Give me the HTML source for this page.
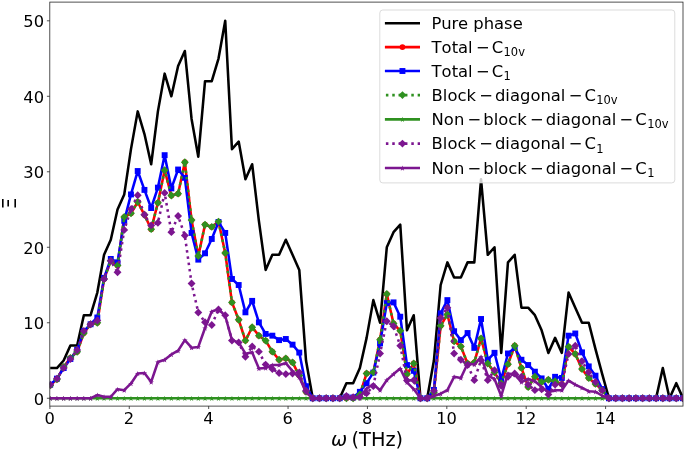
<!DOCTYPE html>
<html><head><meta charset="utf-8"><title>Ξ vs ω (THz)</title>
<style>
html,body{margin:0;padding:0;background:#fff}
svg{display:block}
text{font-family:"DejaVu Sans","Liberation Sans",sans-serif;fill:#000}
.tk{font-size:16.3px}
.lb{font-size:19.3px}
.lg{font-size:16.4px}
.sub{font-size:11.48px}
.mt{font-kerning:none;}
.it{font-family:"DejaVu Sans","Liberation Sans",sans-serif;font-style:oblique}
</style></head><body>
<svg width="685" height="450" viewBox="0 0 685 450">
<rect width="685" height="450" fill="#fff"/>
<defs><clipPath id="ax"><rect x="49.8" y="2.1" width="633.2" height="404.0"/></clipPath></defs>
<g clip-path="url(#ax)" fill="none" stroke-linejoin="round">
<polyline points="50.20,368.05 56.93,368.05 63.66,360.50 70.40,345.41 77.13,345.41 83.86,315.21 90.59,315.21 97.32,292.56 104.06,254.82 110.79,239.72 117.52,209.52 124.25,194.43 130.98,149.13 137.71,111.39 144.45,134.03 151.18,164.23 157.91,111.39 164.64,73.64 171.37,96.29 178.11,66.09 184.84,51.00 191.57,118.94 198.30,156.68 205.03,81.19 211.77,81.19 218.50,58.54 225.23,20.80 231.96,149.13 238.69,141.58 245.43,179.33 252.16,164.23 258.89,220.85 265.62,269.92 272.35,254.82 279.09,254.82 285.82,239.72 292.55,254.82 299.28,269.92 306.01,360.50 312.74,398.25 319.48,398.25 326.21,398.25 332.94,398.25 339.67,398.25 346.40,383.15 353.14,383.15 359.87,368.05 366.60,337.86 373.33,300.11 380.06,322.76 386.80,247.27 393.53,232.17 400.26,224.62 406.99,330.31 413.72,315.21 420.46,398.25 427.19,398.25 433.92,360.50 440.65,285.01 447.38,262.37 454.11,277.47 460.85,277.47 467.58,262.37 474.31,262.37 481.04,179.33 487.77,254.82 494.51,247.27 501.24,352.96 507.97,262.37 514.70,254.82 521.43,307.66 528.17,307.66 534.90,315.21 541.63,330.31 548.36,352.96 555.09,337.86 561.83,352.96 568.56,292.56 575.29,307.66 582.02,322.76 588.75,322.76 595.49,349.18 602.22,374.09 608.95,398.25 615.68,398.25 622.41,398.25 629.14,398.25 635.88,398.25 642.61,398.25 649.34,398.25 656.07,398.25 662.80,368.05 669.54,398.25 676.27,383.15 683.00,398.25" stroke="#000" stroke-width="2.55"/>
<polyline points="50.20,385.42 56.93,379.38 63.66,366.92 70.40,357.86 77.13,351.82 83.86,332.95 90.59,324.27 97.32,322.76 104.06,278.98 110.79,260.86 117.52,265.39 124.25,217.07 130.98,213.30 137.71,201.98 144.45,214.81 151.18,229.15 157.91,202.73 164.64,170.27 171.37,195.56 178.11,193.67 184.84,162.27 191.57,220.09 198.30,255.95 205.03,224.62 211.77,226.89 218.50,221.60 225.23,253.01 231.96,302.38 238.69,319.74 245.43,340.58 252.16,327.29 258.89,335.67 265.62,340.58 272.35,351.67 279.09,359.75 285.82,358.39 292.55,362.39 299.28,375.60 306.01,391.83 312.74,398.25 319.48,398.25 326.21,398.25 332.94,398.25 339.67,398.25 346.40,398.25 353.14,398.25 359.87,394.48 366.60,373.49 373.33,372.36 380.06,339.67 386.80,294.07 393.53,323.51 400.26,330.76 406.99,374.09 413.72,363.52 420.46,398.25 427.19,398.25 433.92,392.21 440.65,325.78 447.38,314.46 454.11,341.26 460.85,346.39 467.58,363.52 474.31,362.39 481.04,338.39 487.77,363.52 494.51,372.36 501.24,383.15 507.97,364.13 514.70,345.71 521.43,367.90 528.17,386.93 534.90,376.81 541.63,381.94 548.36,379.68 555.09,381.26 561.83,384.13 568.56,346.77 575.29,353.94 582.02,369.04 588.75,377.94 595.49,383.91 602.22,390.17 608.95,398.25 615.68,398.25 622.41,398.25 629.14,398.25 635.88,398.25 642.61,398.25 649.34,398.25 656.07,398.25 662.80,398.25 669.54,398.25 676.27,398.25 683.00,398.25" stroke="#ff0000" stroke-width="2.55"/>
<g><circle cx="50.20" cy="385.42" r="2.9" fill="#ff0000"/><circle cx="56.93" cy="379.38" r="2.9" fill="#ff0000"/><circle cx="63.66" cy="366.92" r="2.9" fill="#ff0000"/><circle cx="70.40" cy="357.86" r="2.9" fill="#ff0000"/><circle cx="77.13" cy="351.82" r="2.9" fill="#ff0000"/><circle cx="83.86" cy="332.95" r="2.9" fill="#ff0000"/><circle cx="90.59" cy="324.27" r="2.9" fill="#ff0000"/><circle cx="97.32" cy="322.76" r="2.9" fill="#ff0000"/><circle cx="104.06" cy="278.98" r="2.9" fill="#ff0000"/><circle cx="110.79" cy="260.86" r="2.9" fill="#ff0000"/><circle cx="117.52" cy="265.39" r="2.9" fill="#ff0000"/><circle cx="124.25" cy="217.07" r="2.9" fill="#ff0000"/><circle cx="130.98" cy="213.30" r="2.9" fill="#ff0000"/><circle cx="137.71" cy="201.98" r="2.9" fill="#ff0000"/><circle cx="144.45" cy="214.81" r="2.9" fill="#ff0000"/><circle cx="151.18" cy="229.15" r="2.9" fill="#ff0000"/><circle cx="157.91" cy="202.73" r="2.9" fill="#ff0000"/><circle cx="164.64" cy="170.27" r="2.9" fill="#ff0000"/><circle cx="171.37" cy="195.56" r="2.9" fill="#ff0000"/><circle cx="178.11" cy="193.67" r="2.9" fill="#ff0000"/><circle cx="184.84" cy="162.27" r="2.9" fill="#ff0000"/><circle cx="191.57" cy="220.09" r="2.9" fill="#ff0000"/><circle cx="198.30" cy="255.95" r="2.9" fill="#ff0000"/><circle cx="205.03" cy="224.62" r="2.9" fill="#ff0000"/><circle cx="211.77" cy="226.89" r="2.9" fill="#ff0000"/><circle cx="218.50" cy="221.60" r="2.9" fill="#ff0000"/><circle cx="225.23" cy="253.01" r="2.9" fill="#ff0000"/><circle cx="231.96" cy="302.38" r="2.9" fill="#ff0000"/><circle cx="238.69" cy="319.74" r="2.9" fill="#ff0000"/><circle cx="245.43" cy="340.58" r="2.9" fill="#ff0000"/><circle cx="252.16" cy="327.29" r="2.9" fill="#ff0000"/><circle cx="258.89" cy="335.67" r="2.9" fill="#ff0000"/><circle cx="265.62" cy="340.58" r="2.9" fill="#ff0000"/><circle cx="272.35" cy="351.67" r="2.9" fill="#ff0000"/><circle cx="279.09" cy="359.75" r="2.9" fill="#ff0000"/><circle cx="285.82" cy="358.39" r="2.9" fill="#ff0000"/><circle cx="292.55" cy="362.39" r="2.9" fill="#ff0000"/><circle cx="299.28" cy="375.60" r="2.9" fill="#ff0000"/><circle cx="306.01" cy="391.83" r="2.9" fill="#ff0000"/><circle cx="312.74" cy="398.25" r="2.9" fill="#ff0000"/><circle cx="319.48" cy="398.25" r="2.9" fill="#ff0000"/><circle cx="326.21" cy="398.25" r="2.9" fill="#ff0000"/><circle cx="332.94" cy="398.25" r="2.9" fill="#ff0000"/><circle cx="339.67" cy="398.25" r="2.9" fill="#ff0000"/><circle cx="346.40" cy="398.25" r="2.9" fill="#ff0000"/><circle cx="353.14" cy="398.25" r="2.9" fill="#ff0000"/><circle cx="359.87" cy="394.48" r="2.9" fill="#ff0000"/><circle cx="366.60" cy="373.49" r="2.9" fill="#ff0000"/><circle cx="373.33" cy="372.36" r="2.9" fill="#ff0000"/><circle cx="380.06" cy="339.67" r="2.9" fill="#ff0000"/><circle cx="386.80" cy="294.07" r="2.9" fill="#ff0000"/><circle cx="393.53" cy="323.51" r="2.9" fill="#ff0000"/><circle cx="400.26" cy="330.76" r="2.9" fill="#ff0000"/><circle cx="406.99" cy="374.09" r="2.9" fill="#ff0000"/><circle cx="413.72" cy="363.52" r="2.9" fill="#ff0000"/><circle cx="420.46" cy="398.25" r="2.9" fill="#ff0000"/><circle cx="427.19" cy="398.25" r="2.9" fill="#ff0000"/><circle cx="433.92" cy="392.21" r="2.9" fill="#ff0000"/><circle cx="440.65" cy="325.78" r="2.9" fill="#ff0000"/><circle cx="447.38" cy="314.46" r="2.9" fill="#ff0000"/><circle cx="454.11" cy="341.26" r="2.9" fill="#ff0000"/><circle cx="460.85" cy="346.39" r="2.9" fill="#ff0000"/><circle cx="467.58" cy="363.52" r="2.9" fill="#ff0000"/><circle cx="474.31" cy="362.39" r="2.9" fill="#ff0000"/><circle cx="481.04" cy="338.39" r="2.9" fill="#ff0000"/><circle cx="487.77" cy="363.52" r="2.9" fill="#ff0000"/><circle cx="494.51" cy="372.36" r="2.9" fill="#ff0000"/><circle cx="501.24" cy="383.15" r="2.9" fill="#ff0000"/><circle cx="507.97" cy="364.13" r="2.9" fill="#ff0000"/><circle cx="514.70" cy="345.71" r="2.9" fill="#ff0000"/><circle cx="521.43" cy="367.90" r="2.9" fill="#ff0000"/><circle cx="528.17" cy="386.93" r="2.9" fill="#ff0000"/><circle cx="534.90" cy="376.81" r="2.9" fill="#ff0000"/><circle cx="541.63" cy="381.94" r="2.9" fill="#ff0000"/><circle cx="548.36" cy="379.68" r="2.9" fill="#ff0000"/><circle cx="555.09" cy="381.26" r="2.9" fill="#ff0000"/><circle cx="561.83" cy="384.13" r="2.9" fill="#ff0000"/><circle cx="568.56" cy="346.77" r="2.9" fill="#ff0000"/><circle cx="575.29" cy="353.94" r="2.9" fill="#ff0000"/><circle cx="582.02" cy="369.04" r="2.9" fill="#ff0000"/><circle cx="588.75" cy="377.94" r="2.9" fill="#ff0000"/><circle cx="595.49" cy="383.91" r="2.9" fill="#ff0000"/><circle cx="602.22" cy="390.17" r="2.9" fill="#ff0000"/><circle cx="608.95" cy="398.25" r="2.9" fill="#ff0000"/><circle cx="615.68" cy="398.25" r="2.9" fill="#ff0000"/><circle cx="622.41" cy="398.25" r="2.9" fill="#ff0000"/><circle cx="629.14" cy="398.25" r="2.9" fill="#ff0000"/><circle cx="635.88" cy="398.25" r="2.9" fill="#ff0000"/><circle cx="642.61" cy="398.25" r="2.9" fill="#ff0000"/><circle cx="649.34" cy="398.25" r="2.9" fill="#ff0000"/><circle cx="656.07" cy="398.25" r="2.9" fill="#ff0000"/><circle cx="662.80" cy="398.25" r="2.9" fill="#ff0000"/><circle cx="669.54" cy="398.25" r="2.9" fill="#ff0000"/><circle cx="676.27" cy="398.25" r="2.9" fill="#ff0000"/><circle cx="683.00" cy="398.25" r="2.9" fill="#ff0000"/></g>
<polyline points="50.20,384.66 56.93,378.62 63.66,368.05 70.40,359.00 77.13,349.94 83.86,331.06 90.59,324.27 97.32,317.48 104.06,277.84 110.79,258.97 117.52,262.37 124.25,220.85 130.98,194.43 137.71,171.03 144.45,189.90 151.18,208.02 157.91,187.63 164.64,155.17 171.37,188.39 178.11,169.52 184.84,177.82 191.57,232.93 198.30,259.65 205.03,253.31 211.77,238.97 218.50,221.98 225.23,232.93 231.96,278.98 238.69,285.01 245.43,312.34 252.16,300.87 258.89,322.38 265.62,333.93 272.35,335.67 279.09,340.12 285.82,338.99 292.55,344.65 299.28,352.58 306.01,386.17 312.74,398.25 319.48,398.25 326.21,398.25 332.94,398.25 339.67,398.25 346.40,396.74 353.14,397.50 359.87,391.83 366.60,383.15 373.33,372.58 380.06,343.44 386.80,303.13 393.53,302.38 400.26,316.72 406.99,365.03 413.72,370.85 420.46,398.25 427.19,398.25 433.92,389.95 440.65,313.32 447.38,300.11 454.11,331.21 460.85,340.12 467.58,333.03 474.31,347.90 481.04,318.99 487.77,359.75 494.51,352.81 501.24,379.38 507.97,353.48 514.70,347.90 521.43,359.75 528.17,365.03 534.90,371.68 541.63,378.40 548.36,389.04 555.09,376.81 561.83,377.94 568.56,335.67 575.29,333.48 582.02,352.35 588.75,366.39 595.49,375.68 602.22,389.04 608.95,398.25 615.68,398.25 622.41,398.25 629.14,398.25 635.88,398.25 642.61,398.25 649.34,398.25 656.07,398.25 662.80,398.25 669.54,398.25 676.27,398.25 683.00,398.25" stroke="#0000ff" stroke-width="2.55"/>
<g><rect x="47.25" y="381.71" width="5.9" height="5.9" fill="#0000ff"/><rect x="53.98" y="375.67" width="5.9" height="5.9" fill="#0000ff"/><rect x="60.71" y="365.10" width="5.9" height="5.9" fill="#0000ff"/><rect x="67.45" y="356.05" width="5.9" height="5.9" fill="#0000ff"/><rect x="74.18" y="346.99" width="5.9" height="5.9" fill="#0000ff"/><rect x="80.91" y="328.11" width="5.9" height="5.9" fill="#0000ff"/><rect x="87.64" y="321.32" width="5.9" height="5.9" fill="#0000ff"/><rect x="94.37" y="314.53" width="5.9" height="5.9" fill="#0000ff"/><rect x="101.11" y="274.89" width="5.9" height="5.9" fill="#0000ff"/><rect x="107.84" y="256.02" width="5.9" height="5.9" fill="#0000ff"/><rect x="114.57" y="259.42" width="5.9" height="5.9" fill="#0000ff"/><rect x="121.30" y="217.90" width="5.9" height="5.9" fill="#0000ff"/><rect x="128.03" y="191.48" width="5.9" height="5.9" fill="#0000ff"/><rect x="134.76" y="168.08" width="5.9" height="5.9" fill="#0000ff"/><rect x="141.50" y="186.95" width="5.9" height="5.9" fill="#0000ff"/><rect x="148.23" y="205.07" width="5.9" height="5.9" fill="#0000ff"/><rect x="154.96" y="184.68" width="5.9" height="5.9" fill="#0000ff"/><rect x="161.69" y="152.22" width="5.9" height="5.9" fill="#0000ff"/><rect x="168.42" y="185.44" width="5.9" height="5.9" fill="#0000ff"/><rect x="175.16" y="166.57" width="5.9" height="5.9" fill="#0000ff"/><rect x="181.89" y="174.87" width="5.9" height="5.9" fill="#0000ff"/><rect x="188.62" y="229.98" width="5.9" height="5.9" fill="#0000ff"/><rect x="195.35" y="256.70" width="5.9" height="5.9" fill="#0000ff"/><rect x="202.08" y="250.36" width="5.9" height="5.9" fill="#0000ff"/><rect x="208.82" y="236.02" width="5.9" height="5.9" fill="#0000ff"/><rect x="215.55" y="219.03" width="5.9" height="5.9" fill="#0000ff"/><rect x="222.28" y="229.98" width="5.9" height="5.9" fill="#0000ff"/><rect x="229.01" y="276.03" width="5.9" height="5.9" fill="#0000ff"/><rect x="235.74" y="282.06" width="5.9" height="5.9" fill="#0000ff"/><rect x="242.48" y="309.39" width="5.9" height="5.9" fill="#0000ff"/><rect x="249.21" y="297.92" width="5.9" height="5.9" fill="#0000ff"/><rect x="255.94" y="319.43" width="5.9" height="5.9" fill="#0000ff"/><rect x="262.67" y="330.98" width="5.9" height="5.9" fill="#0000ff"/><rect x="269.40" y="332.72" width="5.9" height="5.9" fill="#0000ff"/><rect x="276.14" y="337.17" width="5.9" height="5.9" fill="#0000ff"/><rect x="282.87" y="336.04" width="5.9" height="5.9" fill="#0000ff"/><rect x="289.60" y="341.70" width="5.9" height="5.9" fill="#0000ff"/><rect x="296.33" y="349.63" width="5.9" height="5.9" fill="#0000ff"/><rect x="303.06" y="383.22" width="5.9" height="5.9" fill="#0000ff"/><rect x="309.79" y="395.30" width="5.9" height="5.9" fill="#0000ff"/><rect x="316.53" y="395.30" width="5.9" height="5.9" fill="#0000ff"/><rect x="323.26" y="395.30" width="5.9" height="5.9" fill="#0000ff"/><rect x="329.99" y="395.30" width="5.9" height="5.9" fill="#0000ff"/><rect x="336.72" y="395.30" width="5.9" height="5.9" fill="#0000ff"/><rect x="343.45" y="393.79" width="5.9" height="5.9" fill="#0000ff"/><rect x="350.19" y="394.55" width="5.9" height="5.9" fill="#0000ff"/><rect x="356.92" y="388.88" width="5.9" height="5.9" fill="#0000ff"/><rect x="363.65" y="380.20" width="5.9" height="5.9" fill="#0000ff"/><rect x="370.38" y="369.63" width="5.9" height="5.9" fill="#0000ff"/><rect x="377.11" y="340.49" width="5.9" height="5.9" fill="#0000ff"/><rect x="383.85" y="300.18" width="5.9" height="5.9" fill="#0000ff"/><rect x="390.58" y="299.43" width="5.9" height="5.9" fill="#0000ff"/><rect x="397.31" y="313.77" width="5.9" height="5.9" fill="#0000ff"/><rect x="404.04" y="362.08" width="5.9" height="5.9" fill="#0000ff"/><rect x="410.77" y="367.90" width="5.9" height="5.9" fill="#0000ff"/><rect x="417.51" y="395.30" width="5.9" height="5.9" fill="#0000ff"/><rect x="424.24" y="395.30" width="5.9" height="5.9" fill="#0000ff"/><rect x="430.97" y="387.00" width="5.9" height="5.9" fill="#0000ff"/><rect x="437.70" y="310.37" width="5.9" height="5.9" fill="#0000ff"/><rect x="444.43" y="297.16" width="5.9" height="5.9" fill="#0000ff"/><rect x="451.16" y="328.26" width="5.9" height="5.9" fill="#0000ff"/><rect x="457.90" y="337.17" width="5.9" height="5.9" fill="#0000ff"/><rect x="464.63" y="330.08" width="5.9" height="5.9" fill="#0000ff"/><rect x="471.36" y="344.95" width="5.9" height="5.9" fill="#0000ff"/><rect x="478.09" y="316.04" width="5.9" height="5.9" fill="#0000ff"/><rect x="484.82" y="356.80" width="5.9" height="5.9" fill="#0000ff"/><rect x="491.56" y="349.86" width="5.9" height="5.9" fill="#0000ff"/><rect x="498.29" y="376.43" width="5.9" height="5.9" fill="#0000ff"/><rect x="505.02" y="350.53" width="5.9" height="5.9" fill="#0000ff"/><rect x="511.75" y="344.95" width="5.9" height="5.9" fill="#0000ff"/><rect x="518.48" y="356.80" width="5.9" height="5.9" fill="#0000ff"/><rect x="525.22" y="362.08" width="5.9" height="5.9" fill="#0000ff"/><rect x="531.95" y="368.73" width="5.9" height="5.9" fill="#0000ff"/><rect x="538.68" y="375.45" width="5.9" height="5.9" fill="#0000ff"/><rect x="545.41" y="386.09" width="5.9" height="5.9" fill="#0000ff"/><rect x="552.14" y="373.86" width="5.9" height="5.9" fill="#0000ff"/><rect x="558.88" y="374.99" width="5.9" height="5.9" fill="#0000ff"/><rect x="565.61" y="332.72" width="5.9" height="5.9" fill="#0000ff"/><rect x="572.34" y="330.53" width="5.9" height="5.9" fill="#0000ff"/><rect x="579.07" y="349.40" width="5.9" height="5.9" fill="#0000ff"/><rect x="585.80" y="363.44" width="5.9" height="5.9" fill="#0000ff"/><rect x="592.54" y="372.73" width="5.9" height="5.9" fill="#0000ff"/><rect x="599.27" y="386.09" width="5.9" height="5.9" fill="#0000ff"/><rect x="606.00" y="395.30" width="5.9" height="5.9" fill="#0000ff"/><rect x="612.73" y="395.30" width="5.9" height="5.9" fill="#0000ff"/><rect x="619.46" y="395.30" width="5.9" height="5.9" fill="#0000ff"/><rect x="626.19" y="395.30" width="5.9" height="5.9" fill="#0000ff"/><rect x="632.93" y="395.30" width="5.9" height="5.9" fill="#0000ff"/><rect x="639.66" y="395.30" width="5.9" height="5.9" fill="#0000ff"/><rect x="646.39" y="395.30" width="5.9" height="5.9" fill="#0000ff"/><rect x="653.12" y="395.30" width="5.9" height="5.9" fill="#0000ff"/><rect x="659.85" y="395.30" width="5.9" height="5.9" fill="#0000ff"/><rect x="666.59" y="395.30" width="5.9" height="5.9" fill="#0000ff"/><rect x="673.32" y="395.30" width="5.9" height="5.9" fill="#0000ff"/><rect x="680.05" y="395.30" width="5.9" height="5.9" fill="#0000ff"/></g>
<polyline points="50.20,385.42 56.93,379.38 63.66,366.92 70.40,357.86 77.13,351.82 83.86,332.95 90.59,324.27 97.32,322.76 104.06,278.98 110.79,260.86 117.52,265.39 124.25,217.07 130.98,213.30 137.71,201.98 144.45,214.81 151.18,229.15 157.91,202.73 164.64,170.27 171.37,195.56 178.11,193.67 184.84,162.27 191.57,220.09 198.30,255.95 205.03,224.62 211.77,226.89 218.50,221.60 225.23,253.01 231.96,302.38 238.69,319.74 245.43,340.58 252.16,327.29 258.89,335.67 265.62,340.58 272.35,351.67 279.09,359.75 285.82,358.39 292.55,362.39 299.28,375.60 306.01,391.83 312.74,398.25 319.48,398.25 326.21,398.25 332.94,398.25 339.67,398.25 346.40,398.25 353.14,398.25 359.87,394.48 366.60,373.49 373.33,372.36 380.06,339.67 386.80,294.07 393.53,323.51 400.26,330.76 406.99,374.09 413.72,363.52 420.46,398.25 427.19,398.25 433.92,392.21 440.65,325.78 447.38,314.46 454.11,341.26 460.85,346.39 467.58,363.52 474.31,362.39 481.04,338.39 487.77,363.52 494.51,372.36 501.24,383.15 507.97,364.13 514.70,345.71 521.43,367.90 528.17,386.93 534.90,376.81 541.63,381.94 548.36,379.68 555.09,381.26 561.83,384.13 568.56,346.77 575.29,353.94 582.02,369.04 588.75,377.94 595.49,383.91 602.22,390.17 608.95,398.25 615.68,398.25 622.41,398.25 629.14,398.25 635.88,398.25 642.61,398.25 649.34,398.25 656.07,398.25 662.80,398.25 669.54,398.25 676.27,398.25 683.00,398.25" stroke="#2f9120" stroke-width="2.55" stroke-dasharray="2.5 3.85"/>
<g><path d="M50.20 381.47L54.15 385.42L50.20 389.37L46.25 385.42Z" fill="#2f9120"/><path d="M56.93 375.43L60.88 379.38L56.93 383.33L52.98 379.38Z" fill="#2f9120"/><path d="M63.66 362.97L67.61 366.92L63.66 370.87L59.71 366.92Z" fill="#2f9120"/><path d="M70.40 353.91L74.35 357.86L70.40 361.81L66.45 357.86Z" fill="#2f9120"/><path d="M77.13 347.87L81.08 351.82L77.13 355.77L73.18 351.82Z" fill="#2f9120"/><path d="M83.86 329.00L87.81 332.95L83.86 336.90L79.91 332.95Z" fill="#2f9120"/><path d="M90.59 320.32L94.54 324.27L90.59 328.22L86.64 324.27Z" fill="#2f9120"/><path d="M97.32 318.81L101.27 322.76L97.32 326.71L93.37 322.76Z" fill="#2f9120"/><path d="M104.06 275.03L108.01 278.98L104.06 282.93L100.11 278.98Z" fill="#2f9120"/><path d="M110.79 256.91L114.74 260.86L110.79 264.81L106.84 260.86Z" fill="#2f9120"/><path d="M117.52 261.44L121.47 265.39L117.52 269.34L113.57 265.39Z" fill="#2f9120"/><path d="M124.25 213.12L128.20 217.07L124.25 221.02L120.30 217.07Z" fill="#2f9120"/><path d="M130.98 209.35L134.93 213.30L130.98 217.25L127.03 213.30Z" fill="#2f9120"/><path d="M137.71 198.03L141.66 201.98L137.71 205.93L133.76 201.98Z" fill="#2f9120"/><path d="M144.45 210.86L148.40 214.81L144.45 218.76L140.50 214.81Z" fill="#2f9120"/><path d="M151.18 225.20L155.13 229.15L151.18 233.10L147.23 229.15Z" fill="#2f9120"/><path d="M157.91 198.78L161.86 202.73L157.91 206.68L153.96 202.73Z" fill="#2f9120"/><path d="M164.64 166.32L168.59 170.27L164.64 174.22L160.69 170.27Z" fill="#2f9120"/><path d="M171.37 191.61L175.32 195.56L171.37 199.51L167.42 195.56Z" fill="#2f9120"/><path d="M178.11 189.72L182.06 193.67L178.11 197.62L174.16 193.67Z" fill="#2f9120"/><path d="M184.84 158.32L188.79 162.27L184.84 166.22L180.89 162.27Z" fill="#2f9120"/><path d="M191.57 216.14L195.52 220.09L191.57 224.04L187.62 220.09Z" fill="#2f9120"/><path d="M198.30 252.00L202.25 255.95L198.30 259.90L194.35 255.95Z" fill="#2f9120"/><path d="M205.03 220.67L208.98 224.62L205.03 228.57L201.08 224.62Z" fill="#2f9120"/><path d="M211.77 222.94L215.72 226.89L211.77 230.84L207.82 226.89Z" fill="#2f9120"/><path d="M218.50 217.65L222.45 221.60L218.50 225.55L214.55 221.60Z" fill="#2f9120"/><path d="M225.23 249.06L229.18 253.01L225.23 256.96L221.28 253.01Z" fill="#2f9120"/><path d="M231.96 298.43L235.91 302.38L231.96 306.33L228.01 302.38Z" fill="#2f9120"/><path d="M238.69 315.79L242.64 319.74L238.69 323.69L234.74 319.74Z" fill="#2f9120"/><path d="M245.43 336.63L249.38 340.58L245.43 344.53L241.48 340.58Z" fill="#2f9120"/><path d="M252.16 323.34L256.11 327.29L252.16 331.24L248.21 327.29Z" fill="#2f9120"/><path d="M258.89 331.72L262.84 335.67L258.89 339.62L254.94 335.67Z" fill="#2f9120"/><path d="M265.62 336.63L269.57 340.58L265.62 344.53L261.67 340.58Z" fill="#2f9120"/><path d="M272.35 347.72L276.30 351.67L272.35 355.62L268.40 351.67Z" fill="#2f9120"/><path d="M279.09 355.80L283.04 359.75L279.09 363.70L275.14 359.75Z" fill="#2f9120"/><path d="M285.82 354.44L289.77 358.39L285.82 362.34L281.87 358.39Z" fill="#2f9120"/><path d="M292.55 358.44L296.50 362.39L292.55 366.34L288.60 362.39Z" fill="#2f9120"/><path d="M299.28 371.65L303.23 375.60L299.28 379.55L295.33 375.60Z" fill="#2f9120"/><path d="M306.01 387.88L309.96 391.83L306.01 395.78L302.06 391.83Z" fill="#2f9120"/><path d="M312.74 394.30L316.69 398.25L312.74 402.20L308.79 398.25Z" fill="#2f9120"/><path d="M319.48 394.30L323.43 398.25L319.48 402.20L315.53 398.25Z" fill="#2f9120"/><path d="M326.21 394.30L330.16 398.25L326.21 402.20L322.26 398.25Z" fill="#2f9120"/><path d="M332.94 394.30L336.89 398.25L332.94 402.20L328.99 398.25Z" fill="#2f9120"/><path d="M339.67 394.30L343.62 398.25L339.67 402.20L335.72 398.25Z" fill="#2f9120"/><path d="M346.40 394.30L350.35 398.25L346.40 402.20L342.45 398.25Z" fill="#2f9120"/><path d="M353.14 394.30L357.09 398.25L353.14 402.20L349.19 398.25Z" fill="#2f9120"/><path d="M359.87 390.53L363.82 394.48L359.87 398.43L355.92 394.48Z" fill="#2f9120"/><path d="M366.60 369.54L370.55 373.49L366.60 377.44L362.65 373.49Z" fill="#2f9120"/><path d="M373.33 368.41L377.28 372.36L373.33 376.31L369.38 372.36Z" fill="#2f9120"/><path d="M380.06 335.72L384.01 339.67L380.06 343.62L376.11 339.67Z" fill="#2f9120"/><path d="M386.80 290.12L390.75 294.07L386.80 298.02L382.85 294.07Z" fill="#2f9120"/><path d="M393.53 319.56L397.48 323.51L393.53 327.46L389.58 323.51Z" fill="#2f9120"/><path d="M400.26 326.81L404.21 330.76L400.26 334.71L396.31 330.76Z" fill="#2f9120"/><path d="M406.99 370.14L410.94 374.09L406.99 378.04L403.04 374.09Z" fill="#2f9120"/><path d="M413.72 359.57L417.67 363.52L413.72 367.47L409.77 363.52Z" fill="#2f9120"/><path d="M420.46 394.30L424.41 398.25L420.46 402.20L416.51 398.25Z" fill="#2f9120"/><path d="M427.19 394.30L431.14 398.25L427.19 402.20L423.24 398.25Z" fill="#2f9120"/><path d="M433.92 388.26L437.87 392.21L433.92 396.16L429.97 392.21Z" fill="#2f9120"/><path d="M440.65 321.83L444.60 325.78L440.65 329.73L436.70 325.78Z" fill="#2f9120"/><path d="M447.38 310.51L451.33 314.46L447.38 318.41L443.43 314.46Z" fill="#2f9120"/><path d="M454.11 337.31L458.06 341.26L454.11 345.21L450.16 341.26Z" fill="#2f9120"/><path d="M460.85 342.44L464.80 346.39L460.85 350.34L456.90 346.39Z" fill="#2f9120"/><path d="M467.58 359.57L471.53 363.52L467.58 367.47L463.63 363.52Z" fill="#2f9120"/><path d="M474.31 358.44L478.26 362.39L474.31 366.34L470.36 362.39Z" fill="#2f9120"/><path d="M481.04 334.44L484.99 338.39L481.04 342.34L477.09 338.39Z" fill="#2f9120"/><path d="M487.77 359.57L491.72 363.52L487.77 367.47L483.82 363.52Z" fill="#2f9120"/><path d="M494.51 368.41L498.46 372.36L494.51 376.31L490.56 372.36Z" fill="#2f9120"/><path d="M501.24 379.20L505.19 383.15L501.24 387.10L497.29 383.15Z" fill="#2f9120"/><path d="M507.97 360.18L511.92 364.13L507.97 368.08L504.02 364.13Z" fill="#2f9120"/><path d="M514.70 341.76L518.65 345.71L514.70 349.66L510.75 345.71Z" fill="#2f9120"/><path d="M521.43 363.95L525.38 367.90L521.43 371.85L517.48 367.90Z" fill="#2f9120"/><path d="M528.17 382.98L532.12 386.93L528.17 390.88L524.22 386.93Z" fill="#2f9120"/><path d="M534.90 372.86L538.85 376.81L534.90 380.76L530.95 376.81Z" fill="#2f9120"/><path d="M541.63 377.99L545.58 381.94L541.63 385.89L537.68 381.94Z" fill="#2f9120"/><path d="M548.36 375.73L552.31 379.68L548.36 383.63L544.41 379.68Z" fill="#2f9120"/><path d="M555.09 377.31L559.04 381.26L555.09 385.21L551.14 381.26Z" fill="#2f9120"/><path d="M561.83 380.18L565.78 384.13L561.83 388.08L557.88 384.13Z" fill="#2f9120"/><path d="M568.56 342.82L572.51 346.77L568.56 350.72L564.61 346.77Z" fill="#2f9120"/><path d="M575.29 349.99L579.24 353.94L575.29 357.89L571.34 353.94Z" fill="#2f9120"/><path d="M582.02 365.09L585.97 369.04L582.02 372.99L578.07 369.04Z" fill="#2f9120"/><path d="M588.75 373.99L592.70 377.94L588.75 381.89L584.80 377.94Z" fill="#2f9120"/><path d="M595.49 379.96L599.44 383.91L595.49 387.86L591.54 383.91Z" fill="#2f9120"/><path d="M602.22 386.22L606.17 390.17L602.22 394.12L598.27 390.17Z" fill="#2f9120"/><path d="M608.95 394.30L612.90 398.25L608.95 402.20L605.00 398.25Z" fill="#2f9120"/><path d="M615.68 394.30L619.63 398.25L615.68 402.20L611.73 398.25Z" fill="#2f9120"/><path d="M622.41 394.30L626.36 398.25L622.41 402.20L618.46 398.25Z" fill="#2f9120"/><path d="M629.14 394.30L633.09 398.25L629.14 402.20L625.19 398.25Z" fill="#2f9120"/><path d="M635.88 394.30L639.83 398.25L635.88 402.20L631.93 398.25Z" fill="#2f9120"/><path d="M642.61 394.30L646.56 398.25L642.61 402.20L638.66 398.25Z" fill="#2f9120"/><path d="M649.34 394.30L653.29 398.25L649.34 402.20L645.39 398.25Z" fill="#2f9120"/><path d="M656.07 394.30L660.02 398.25L656.07 402.20L652.12 398.25Z" fill="#2f9120"/><path d="M662.80 394.30L666.75 398.25L662.80 402.20L658.85 398.25Z" fill="#2f9120"/><path d="M669.54 394.30L673.49 398.25L669.54 402.20L665.59 398.25Z" fill="#2f9120"/><path d="M676.27 394.30L680.22 398.25L676.27 402.20L672.32 398.25Z" fill="#2f9120"/><path d="M683.00 394.30L686.95 398.25L683.00 402.20L679.05 398.25Z" fill="#2f9120"/></g>
<polyline points="50.20,398.25 56.93,398.25 63.66,398.25 70.40,398.25 77.13,398.25 83.86,398.25 90.59,398.25 97.32,398.25 104.06,398.25 110.79,398.25 117.52,398.25 124.25,398.25 130.98,398.25 137.71,398.25 144.45,398.25 151.18,398.25 157.91,398.25 164.64,398.25 171.37,398.25 178.11,398.25 184.84,398.25 191.57,398.25 198.30,398.25 205.03,398.25 211.77,398.25 218.50,398.25 225.23,398.25 231.96,398.25 238.69,398.25 245.43,398.25 252.16,398.25 258.89,398.25 265.62,398.25 272.35,398.25 279.09,398.25 285.82,398.25 292.55,398.25 299.28,398.25 306.01,398.25 312.74,398.25 319.48,398.25 326.21,398.25 332.94,398.25 339.67,398.25 346.40,398.25 353.14,398.25 359.87,398.25 366.60,398.25 373.33,398.25 380.06,398.25 386.80,398.25 393.53,398.25 400.26,398.25 406.99,398.25 413.72,398.25 420.46,398.25 427.19,398.25 433.92,398.25 440.65,398.25 447.38,398.25 454.11,398.25 460.85,398.25 467.58,398.25 474.31,398.25 481.04,398.25 487.77,398.25 494.51,398.25 501.24,398.25 507.97,398.25 514.70,398.25 521.43,398.25 528.17,398.25 534.90,398.25 541.63,398.25 548.36,398.25 555.09,398.25 561.83,398.25 568.56,398.25 575.29,398.25 582.02,398.25 588.75,398.25 595.49,398.25 602.22,398.25 608.95,398.25 615.68,398.25 622.41,398.25 629.14,398.25 635.88,398.25 642.61,398.25 649.34,398.25 656.07,398.25 662.80,398.25 669.54,398.25 676.27,398.25 683.00,398.25" stroke="#2f9120" stroke-width="2.55"/>
<g><path d="M50.20 395.70L50.85 397.70L52.96 397.70L51.25 398.94L51.90 400.95L50.20 399.71L48.50 400.95L49.15 398.94L47.44 397.70L49.55 397.70Z" fill="#2f9120"/><path d="M56.93 395.70L57.58 397.70L59.69 397.70L57.99 398.94L58.64 400.95L56.93 399.71L55.23 400.95L55.88 398.94L54.17 397.70L56.28 397.70Z" fill="#2f9120"/><path d="M63.66 395.70L64.31 397.70L66.42 397.70L64.72 398.94L65.37 400.95L63.66 399.71L61.96 400.95L62.61 398.94L60.91 397.70L63.01 397.70Z" fill="#2f9120"/><path d="M70.40 395.70L71.05 397.70L73.15 397.70L71.45 398.94L72.10 400.95L70.40 399.71L68.69 400.95L69.34 398.94L67.64 397.70L69.74 397.70Z" fill="#2f9120"/><path d="M77.13 395.70L77.78 397.70L79.89 397.70L78.18 398.94L78.83 400.95L77.13 399.71L75.42 400.95L76.07 398.94L74.37 397.70L76.48 397.70Z" fill="#2f9120"/><path d="M83.86 395.70L84.51 397.70L86.62 397.70L84.91 398.94L85.56 400.95L83.86 399.71L82.15 400.95L82.81 398.94L81.10 397.70L83.21 397.70Z" fill="#2f9120"/><path d="M90.59 395.70L91.24 397.70L93.35 397.70L91.64 398.94L92.30 400.95L90.59 399.71L88.89 400.95L89.54 398.94L87.83 397.70L89.94 397.70Z" fill="#2f9120"/><path d="M97.32 395.70L97.97 397.70L100.08 397.70L98.38 398.94L99.03 400.95L97.32 399.71L95.62 400.95L96.27 398.94L94.57 397.70L96.67 397.70Z" fill="#2f9120"/><path d="M104.06 395.70L104.71 397.70L106.81 397.70L105.11 398.94L105.76 400.95L104.06 399.71L102.35 400.95L103.00 398.94L101.30 397.70L103.40 397.70Z" fill="#2f9120"/><path d="M110.79 395.70L111.44 397.70L113.55 397.70L111.84 398.94L112.49 400.95L110.79 399.71L109.08 400.95L109.73 398.94L108.03 397.70L110.14 397.70Z" fill="#2f9120"/><path d="M117.52 395.70L118.17 397.70L120.28 397.70L118.57 398.94L119.22 400.95L117.52 399.71L115.81 400.95L116.47 398.94L114.76 397.70L116.87 397.70Z" fill="#2f9120"/><path d="M124.25 395.70L124.90 397.70L127.01 397.70L125.30 398.94L125.96 400.95L124.25 399.71L122.55 400.95L123.20 398.94L121.49 397.70L123.60 397.70Z" fill="#2f9120"/><path d="M130.98 395.70L131.63 397.70L133.74 397.70L132.04 398.94L132.69 400.95L130.98 399.71L129.28 400.95L129.93 398.94L128.22 397.70L130.33 397.70Z" fill="#2f9120"/><path d="M137.71 395.70L138.37 397.70L140.47 397.70L138.77 398.94L139.42 400.95L137.71 399.71L136.01 400.95L136.66 398.94L134.96 397.70L137.06 397.70Z" fill="#2f9120"/><path d="M144.45 395.70L145.10 397.70L147.20 397.70L145.50 398.94L146.15 400.95L144.45 399.71L142.74 400.95L143.39 398.94L141.69 397.70L143.80 397.70Z" fill="#2f9120"/><path d="M151.18 395.70L151.83 397.70L153.94 397.70L152.23 398.94L152.88 400.95L151.18 399.71L149.47 400.95L150.13 398.94L148.42 397.70L150.53 397.70Z" fill="#2f9120"/><path d="M157.91 395.70L158.56 397.70L160.67 397.70L158.96 398.94L159.62 400.95L157.91 399.71L156.21 400.95L156.86 398.94L155.15 397.70L157.26 397.70Z" fill="#2f9120"/><path d="M164.64 395.70L165.29 397.70L167.40 397.70L165.70 398.94L166.35 400.95L164.64 399.71L162.94 400.95L163.59 398.94L161.88 397.70L163.99 397.70Z" fill="#2f9120"/><path d="M171.37 395.70L172.03 397.70L174.13 397.70L172.43 398.94L173.08 400.95L171.37 399.71L169.67 400.95L170.32 398.94L168.62 397.70L170.72 397.70Z" fill="#2f9120"/><path d="M178.11 395.70L178.76 397.70L180.86 397.70L179.16 398.94L179.81 400.95L178.11 399.71L176.40 400.95L177.05 398.94L175.35 397.70L177.46 397.70Z" fill="#2f9120"/><path d="M184.84 395.70L185.49 397.70L187.60 397.70L185.89 398.94L186.54 400.95L184.84 399.71L183.13 400.95L183.78 398.94L182.08 397.70L184.19 397.70Z" fill="#2f9120"/><path d="M191.57 395.70L192.22 397.70L194.33 397.70L192.62 398.94L193.27 400.95L191.57 399.71L189.87 400.95L190.52 398.94L188.81 397.70L190.92 397.70Z" fill="#2f9120"/><path d="M198.30 395.70L198.95 397.70L201.06 397.70L199.36 398.94L200.01 400.95L198.30 399.71L196.60 400.95L197.25 398.94L195.54 397.70L197.65 397.70Z" fill="#2f9120"/><path d="M205.03 395.70L205.69 397.70L207.79 397.70L206.09 398.94L206.74 400.95L205.03 399.71L203.33 400.95L203.98 398.94L202.28 397.70L204.38 397.70Z" fill="#2f9120"/><path d="M211.77 395.70L212.42 397.70L214.52 397.70L212.82 398.94L213.47 400.95L211.77 399.71L210.06 400.95L210.71 398.94L209.01 397.70L211.11 397.70Z" fill="#2f9120"/><path d="M218.50 395.70L219.15 397.70L221.26 397.70L219.55 398.94L220.20 400.95L218.50 399.71L216.79 400.95L217.44 398.94L215.74 397.70L217.85 397.70Z" fill="#2f9120"/><path d="M225.23 395.70L225.88 397.70L227.99 397.70L226.28 398.94L226.93 400.95L225.23 399.71L223.53 400.95L224.18 398.94L222.47 397.70L224.58 397.70Z" fill="#2f9120"/><path d="M231.96 395.70L232.61 397.70L234.72 397.70L233.02 398.94L233.67 400.95L231.96 399.71L230.26 400.95L230.91 398.94L229.20 397.70L231.31 397.70Z" fill="#2f9120"/><path d="M238.69 395.70L239.34 397.70L241.45 397.70L239.75 398.94L240.40 400.95L238.69 399.71L236.99 400.95L237.64 398.94L235.94 397.70L238.04 397.70Z" fill="#2f9120"/><path d="M245.43 395.70L246.08 397.70L248.18 397.70L246.48 398.94L247.13 400.95L245.43 399.71L243.72 400.95L244.37 398.94L242.67 397.70L244.77 397.70Z" fill="#2f9120"/><path d="M252.16 395.70L252.81 397.70L254.92 397.70L253.21 398.94L253.86 400.95L252.16 399.71L250.45 400.95L251.10 398.94L249.40 397.70L251.51 397.70Z" fill="#2f9120"/><path d="M258.89 395.70L259.54 397.70L261.65 397.70L259.94 398.94L260.59 400.95L258.89 399.71L257.18 400.95L257.84 398.94L256.13 397.70L258.24 397.70Z" fill="#2f9120"/><path d="M265.62 395.70L266.27 397.70L268.38 397.70L266.67 398.94L267.33 400.95L265.62 399.71L263.92 400.95L264.57 398.94L262.86 397.70L264.97 397.70Z" fill="#2f9120"/><path d="M272.35 395.70L273.00 397.70L275.11 397.70L273.41 398.94L274.06 400.95L272.35 399.71L270.65 400.95L271.30 398.94L269.60 397.70L271.70 397.70Z" fill="#2f9120"/><path d="M279.09 395.70L279.74 397.70L281.84 397.70L280.14 398.94L280.79 400.95L279.09 399.71L277.38 400.95L278.03 398.94L276.33 397.70L278.43 397.70Z" fill="#2f9120"/><path d="M285.82 395.70L286.47 397.70L288.58 397.70L286.87 398.94L287.52 400.95L285.82 399.71L284.11 400.95L284.76 398.94L283.06 397.70L285.17 397.70Z" fill="#2f9120"/><path d="M292.55 395.70L293.20 397.70L295.31 397.70L293.60 398.94L294.25 400.95L292.55 399.71L290.84 400.95L291.50 398.94L289.79 397.70L291.90 397.70Z" fill="#2f9120"/><path d="M299.28 395.70L299.93 397.70L302.04 397.70L300.33 398.94L300.99 400.95L299.28 399.71L297.58 400.95L298.23 398.94L296.52 397.70L298.63 397.70Z" fill="#2f9120"/><path d="M306.01 395.70L306.66 397.70L308.77 397.70L307.07 398.94L307.72 400.95L306.01 399.71L304.31 400.95L304.96 398.94L303.25 397.70L305.36 397.70Z" fill="#2f9120"/><path d="M312.74 395.70L313.40 397.70L315.50 397.70L313.80 398.94L314.45 400.95L312.74 399.71L311.04 400.95L311.69 398.94L309.99 397.70L312.09 397.70Z" fill="#2f9120"/><path d="M319.48 395.70L320.13 397.70L322.23 397.70L320.53 398.94L321.18 400.95L319.48 399.71L317.77 400.95L318.42 398.94L316.72 397.70L318.83 397.70Z" fill="#2f9120"/><path d="M326.21 395.70L326.86 397.70L328.97 397.70L327.26 398.94L327.91 400.95L326.21 399.71L324.50 400.95L325.16 398.94L323.45 397.70L325.56 397.70Z" fill="#2f9120"/><path d="M332.94 395.70L333.59 397.70L335.70 397.70L333.99 398.94L334.65 400.95L332.94 399.71L331.24 400.95L331.89 398.94L330.18 397.70L332.29 397.70Z" fill="#2f9120"/><path d="M339.67 395.70L340.32 397.70L342.43 397.70L340.73 398.94L341.38 400.95L339.67 399.71L337.97 400.95L338.62 398.94L336.91 397.70L339.02 397.70Z" fill="#2f9120"/><path d="M346.40 395.70L347.06 397.70L349.16 397.70L347.46 398.94L348.11 400.95L346.40 399.71L344.70 400.95L345.35 398.94L343.65 397.70L345.75 397.70Z" fill="#2f9120"/><path d="M353.14 395.70L353.79 397.70L355.89 397.70L354.19 398.94L354.84 400.95L353.14 399.71L351.43 400.95L352.08 398.94L350.38 397.70L352.49 397.70Z" fill="#2f9120"/><path d="M359.87 395.70L360.52 397.70L362.63 397.70L360.92 398.94L361.57 400.95L359.87 399.71L358.16 400.95L358.81 398.94L357.11 397.70L359.22 397.70Z" fill="#2f9120"/><path d="M366.60 395.70L367.25 397.70L369.36 397.70L367.65 398.94L368.30 400.95L366.60 399.71L364.90 400.95L365.55 398.94L363.84 397.70L365.95 397.70Z" fill="#2f9120"/><path d="M373.33 395.70L373.98 397.70L376.09 397.70L374.39 398.94L375.04 400.95L373.33 399.71L371.63 400.95L372.28 398.94L370.57 397.70L372.68 397.70Z" fill="#2f9120"/><path d="M380.06 395.70L380.71 397.70L382.82 397.70L381.12 398.94L381.77 400.95L380.06 399.71L378.36 400.95L379.01 398.94L377.31 397.70L379.41 397.70Z" fill="#2f9120"/><path d="M386.80 395.70L387.45 397.70L389.55 397.70L387.85 398.94L388.50 400.95L386.80 399.71L385.09 400.95L385.74 398.94L384.04 397.70L386.14 397.70Z" fill="#2f9120"/><path d="M393.53 395.70L394.18 397.70L396.29 397.70L394.58 398.94L395.23 400.95L393.53 399.71L391.82 400.95L392.47 398.94L390.77 397.70L392.88 397.70Z" fill="#2f9120"/><path d="M400.26 395.70L400.91 397.70L403.02 397.70L401.31 398.94L401.96 400.95L400.26 399.71L398.55 400.95L399.21 398.94L397.50 397.70L399.61 397.70Z" fill="#2f9120"/><path d="M406.99 395.70L407.64 397.70L409.75 397.70L408.04 398.94L408.70 400.95L406.99 399.71L405.29 400.95L405.94 398.94L404.23 397.70L406.34 397.70Z" fill="#2f9120"/><path d="M413.72 395.70L414.37 397.70L416.48 397.70L414.78 398.94L415.43 400.95L413.72 399.71L412.02 400.95L412.67 398.94L410.97 397.70L413.07 397.70Z" fill="#2f9120"/><path d="M420.46 395.70L421.11 397.70L423.21 397.70L421.51 398.94L422.16 400.95L420.46 399.71L418.75 400.95L419.40 398.94L417.70 397.70L419.80 397.70Z" fill="#2f9120"/><path d="M427.19 395.70L427.84 397.70L429.95 397.70L428.24 398.94L428.89 400.95L427.19 399.71L425.48 400.95L426.13 398.94L424.43 397.70L426.54 397.70Z" fill="#2f9120"/><path d="M433.92 395.70L434.57 397.70L436.68 397.70L434.97 398.94L435.62 400.95L433.92 399.71L432.21 400.95L432.87 398.94L431.16 397.70L433.27 397.70Z" fill="#2f9120"/><path d="M440.65 395.70L441.30 397.70L443.41 397.70L441.70 398.94L442.36 400.95L440.65 399.71L438.95 400.95L439.60 398.94L437.89 397.70L440.00 397.70Z" fill="#2f9120"/><path d="M447.38 395.70L448.03 397.70L450.14 397.70L448.44 398.94L449.09 400.95L447.38 399.71L445.68 400.95L446.33 398.94L444.62 397.70L446.73 397.70Z" fill="#2f9120"/><path d="M454.11 395.70L454.77 397.70L456.87 397.70L455.17 398.94L455.82 400.95L454.11 399.71L452.41 400.95L453.06 398.94L451.36 397.70L453.46 397.70Z" fill="#2f9120"/><path d="M460.85 395.70L461.50 397.70L463.60 397.70L461.90 398.94L462.55 400.95L460.85 399.71L459.14 400.95L459.79 398.94L458.09 397.70L460.20 397.70Z" fill="#2f9120"/><path d="M467.58 395.70L468.23 397.70L470.34 397.70L468.63 398.94L469.28 400.95L467.58 399.71L465.87 400.95L466.53 398.94L464.82 397.70L466.93 397.70Z" fill="#2f9120"/><path d="M474.31 395.70L474.96 397.70L477.07 397.70L475.36 398.94L476.02 400.95L474.31 399.71L472.61 400.95L473.26 398.94L471.55 397.70L473.66 397.70Z" fill="#2f9120"/><path d="M481.04 395.70L481.69 397.70L483.80 397.70L482.10 398.94L482.75 400.95L481.04 399.71L479.34 400.95L479.99 398.94L478.28 397.70L480.39 397.70Z" fill="#2f9120"/><path d="M487.77 395.70L488.43 397.70L490.53 397.70L488.83 398.94L489.48 400.95L487.77 399.71L486.07 400.95L486.72 398.94L485.02 397.70L487.12 397.70Z" fill="#2f9120"/><path d="M494.51 395.70L495.16 397.70L497.26 397.70L495.56 398.94L496.21 400.95L494.51 399.71L492.80 400.95L493.45 398.94L491.75 397.70L493.86 397.70Z" fill="#2f9120"/><path d="M501.24 395.70L501.89 397.70L504.00 397.70L502.29 398.94L502.94 400.95L501.24 399.71L499.53 400.95L500.18 398.94L498.48 397.70L500.59 397.70Z" fill="#2f9120"/><path d="M507.97 395.70L508.62 397.70L510.73 397.70L509.02 398.94L509.67 400.95L507.97 399.71L506.27 400.95L506.92 398.94L505.21 397.70L507.32 397.70Z" fill="#2f9120"/><path d="M514.70 395.70L515.35 397.70L517.46 397.70L515.76 398.94L516.41 400.95L514.70 399.71L513.00 400.95L513.65 398.94L511.94 397.70L514.05 397.70Z" fill="#2f9120"/><path d="M521.43 395.70L522.09 397.70L524.19 397.70L522.49 398.94L523.14 400.95L521.43 399.71L519.73 400.95L520.38 398.94L518.68 397.70L520.78 397.70Z" fill="#2f9120"/><path d="M528.17 395.70L528.82 397.70L530.92 397.70L529.22 398.94L529.87 400.95L528.17 399.71L526.46 400.95L527.11 398.94L525.41 397.70L527.51 397.70Z" fill="#2f9120"/><path d="M534.90 395.70L535.55 397.70L537.66 397.70L535.95 398.94L536.60 400.95L534.90 399.71L533.19 400.95L533.84 398.94L532.14 397.70L534.25 397.70Z" fill="#2f9120"/><path d="M541.63 395.70L542.28 397.70L544.39 397.70L542.68 398.94L543.33 400.95L541.63 399.71L539.93 400.95L540.58 398.94L538.87 397.70L540.98 397.70Z" fill="#2f9120"/><path d="M548.36 395.70L549.01 397.70L551.12 397.70L549.42 398.94L550.07 400.95L548.36 399.71L546.66 400.95L547.31 398.94L545.60 397.70L547.71 397.70Z" fill="#2f9120"/><path d="M555.09 395.70L555.74 397.70L557.85 397.70L556.15 398.94L556.80 400.95L555.09 399.71L553.39 400.95L554.04 398.94L552.34 397.70L554.44 397.70Z" fill="#2f9120"/><path d="M561.83 395.70L562.48 397.70L564.58 397.70L562.88 398.94L563.53 400.95L561.83 399.71L560.12 400.95L560.77 398.94L559.07 397.70L561.17 397.70Z" fill="#2f9120"/><path d="M568.56 395.70L569.21 397.70L571.32 397.70L569.61 398.94L570.26 400.95L568.56 399.71L566.85 400.95L567.50 398.94L565.80 397.70L567.91 397.70Z" fill="#2f9120"/><path d="M575.29 395.70L575.94 397.70L578.05 397.70L576.34 398.94L576.99 400.95L575.29 399.71L573.58 400.95L574.24 398.94L572.53 397.70L574.64 397.70Z" fill="#2f9120"/><path d="M582.02 395.70L582.67 397.70L584.78 397.70L583.07 398.94L583.73 400.95L582.02 399.71L580.32 400.95L580.97 398.94L579.26 397.70L581.37 397.70Z" fill="#2f9120"/><path d="M588.75 395.70L589.40 397.70L591.51 397.70L589.81 398.94L590.46 400.95L588.75 399.71L587.05 400.95L587.70 398.94L586.00 397.70L588.10 397.70Z" fill="#2f9120"/><path d="M595.49 395.70L596.14 397.70L598.24 397.70L596.54 398.94L597.19 400.95L595.49 399.71L593.78 400.95L594.43 398.94L592.73 397.70L594.83 397.70Z" fill="#2f9120"/><path d="M602.22 395.70L602.87 397.70L604.98 397.70L603.27 398.94L603.92 400.95L602.22 399.71L600.51 400.95L601.16 398.94L599.46 397.70L601.57 397.70Z" fill="#2f9120"/><path d="M608.95 395.70L609.60 397.70L611.71 397.70L610.00 398.94L610.65 400.95L608.95 399.71L607.24 400.95L607.90 398.94L606.19 397.70L608.30 397.70Z" fill="#2f9120"/><path d="M615.68 395.70L616.33 397.70L618.44 397.70L616.73 398.94L617.39 400.95L615.68 399.71L613.98 400.95L614.63 398.94L612.92 397.70L615.03 397.70Z" fill="#2f9120"/><path d="M622.41 395.70L623.06 397.70L625.17 397.70L623.47 398.94L624.12 400.95L622.41 399.71L620.71 400.95L621.36 398.94L619.65 397.70L621.76 397.70Z" fill="#2f9120"/><path d="M629.14 395.70L629.80 397.70L631.90 397.70L630.20 398.94L630.85 400.95L629.14 399.71L627.44 400.95L628.09 398.94L626.39 397.70L628.49 397.70Z" fill="#2f9120"/><path d="M635.88 395.70L636.53 397.70L638.63 397.70L636.93 398.94L637.58 400.95L635.88 399.71L634.17 400.95L634.82 398.94L633.12 397.70L635.23 397.70Z" fill="#2f9120"/><path d="M642.61 395.70L643.26 397.70L645.37 397.70L643.66 398.94L644.31 400.95L642.61 399.71L640.90 400.95L641.56 398.94L639.85 397.70L641.96 397.70Z" fill="#2f9120"/><path d="M649.34 395.70L649.99 397.70L652.10 397.70L650.39 398.94L651.05 400.95L649.34 399.71L647.64 400.95L648.29 398.94L646.58 397.70L648.69 397.70Z" fill="#2f9120"/><path d="M656.07 395.70L656.72 397.70L658.83 397.70L657.13 398.94L657.78 400.95L656.07 399.71L654.37 400.95L655.02 398.94L653.31 397.70L655.42 397.70Z" fill="#2f9120"/><path d="M662.80 395.70L663.46 397.70L665.56 397.70L663.86 398.94L664.51 400.95L662.80 399.71L661.10 400.95L661.75 398.94L660.05 397.70L662.15 397.70Z" fill="#2f9120"/><path d="M669.54 395.70L670.19 397.70L672.29 397.70L670.59 398.94L671.24 400.95L669.54 399.71L667.83 400.95L668.48 398.94L666.78 397.70L668.89 397.70Z" fill="#2f9120"/><path d="M676.27 395.70L676.92 397.70L679.03 397.70L677.32 398.94L677.97 400.95L676.27 399.71L674.56 400.95L675.21 398.94L673.51 397.70L675.62 397.70Z" fill="#2f9120"/><path d="M683.00 395.70L683.65 397.70L685.76 397.70L684.05 398.94L684.70 400.95L683.00 399.71L681.30 400.95L681.95 398.94L680.24 397.70L682.35 397.70Z" fill="#2f9120"/></g>
<polyline points="50.20,384.66 56.93,378.62 63.66,368.05 70.40,359.00 77.13,349.94 83.86,331.06 90.59,324.27 97.32,320.50 104.06,278.98 110.79,260.86 117.52,272.18 124.25,229.91 130.98,209.15 137.71,195.18 144.45,214.81 151.18,225.38 157.91,222.74 164.64,192.92 171.37,232.17 178.11,215.94 184.84,235.57 191.57,283.51 198.30,312.57 205.03,322.31 211.77,325.02 218.50,309.47 225.23,315.21 231.96,340.58 238.69,342.39 245.43,356.81 252.16,346.39 258.89,351.67 265.62,364.58 272.35,369.04 279.09,372.96 285.82,374.09 292.55,373.49 299.28,372.36 306.01,390.70 312.74,398.25 319.48,398.25 326.21,398.25 332.94,398.25 339.67,398.25 346.40,395.99 353.14,397.12 359.87,397.12 366.60,393.34 373.33,386.17 380.06,353.48 386.80,321.25 393.53,326.31 400.26,345.71 406.99,380.51 413.72,380.13 420.46,398.25 427.19,398.25 433.92,390.85 440.65,317.93 447.38,307.66 454.11,353.48 460.85,359.75 467.58,365.03 474.31,380.13 481.04,360.13 487.77,380.13 494.51,370.17 501.24,385.72 507.97,376.81 514.70,373.49 521.43,376.81 528.17,384.66 534.90,390.17 541.63,389.19 548.36,394.55 555.09,384.66 561.83,384.13 568.56,353.94 575.29,345.71 582.02,361.26 588.75,372.36 595.49,381.94 602.22,390.17 608.95,398.25 615.68,398.25 622.41,398.25 629.14,398.25 635.88,398.25 642.61,398.25 649.34,398.25 656.07,398.25 662.80,398.25 669.54,398.25 676.27,398.25 683.00,398.25" stroke="#7c1690" stroke-width="2.55" stroke-dasharray="2.5 3.85"/>
<g><path d="M50.20 380.71L54.15 384.66L50.20 388.61L46.25 384.66Z" fill="#7c1690"/><path d="M56.93 374.67L60.88 378.62L56.93 382.57L52.98 378.62Z" fill="#7c1690"/><path d="M63.66 364.10L67.61 368.05L63.66 372.00L59.71 368.05Z" fill="#7c1690"/><path d="M70.40 355.05L74.35 359.00L70.40 362.95L66.45 359.00Z" fill="#7c1690"/><path d="M77.13 345.99L81.08 349.94L77.13 353.89L73.18 349.94Z" fill="#7c1690"/><path d="M83.86 327.11L87.81 331.06L83.86 335.01L79.91 331.06Z" fill="#7c1690"/><path d="M90.59 320.32L94.54 324.27L90.59 328.22L86.64 324.27Z" fill="#7c1690"/><path d="M97.32 316.55L101.27 320.50L97.32 324.45L93.37 320.50Z" fill="#7c1690"/><path d="M104.06 275.03L108.01 278.98L104.06 282.93L100.11 278.98Z" fill="#7c1690"/><path d="M110.79 256.91L114.74 260.86L110.79 264.81L106.84 260.86Z" fill="#7c1690"/><path d="M117.52 268.23L121.47 272.18L117.52 276.13L113.57 272.18Z" fill="#7c1690"/><path d="M124.25 225.96L128.20 229.91L124.25 233.86L120.30 229.91Z" fill="#7c1690"/><path d="M130.98 205.20L134.93 209.15L130.98 213.10L127.03 209.15Z" fill="#7c1690"/><path d="M137.71 191.23L141.66 195.18L137.71 199.13L133.76 195.18Z" fill="#7c1690"/><path d="M144.45 210.86L148.40 214.81L144.45 218.76L140.50 214.81Z" fill="#7c1690"/><path d="M151.18 221.43L155.13 225.38L151.18 229.33L147.23 225.38Z" fill="#7c1690"/><path d="M157.91 218.79L161.86 222.74L157.91 226.69L153.96 222.74Z" fill="#7c1690"/><path d="M164.64 188.97L168.59 192.92L164.64 196.87L160.69 192.92Z" fill="#7c1690"/><path d="M171.37 228.22L175.32 232.17L171.37 236.12L167.42 232.17Z" fill="#7c1690"/><path d="M178.11 211.99L182.06 215.94L178.11 219.89L174.16 215.94Z" fill="#7c1690"/><path d="M184.84 231.62L188.79 235.57L184.84 239.52L180.89 235.57Z" fill="#7c1690"/><path d="M191.57 279.56L195.52 283.51L191.57 287.46L187.62 283.51Z" fill="#7c1690"/><path d="M198.30 308.62L202.25 312.57L198.30 316.52L194.35 312.57Z" fill="#7c1690"/><path d="M205.03 318.36L208.98 322.31L205.03 326.26L201.08 322.31Z" fill="#7c1690"/><path d="M211.77 321.07L215.72 325.02L211.77 328.97L207.82 325.02Z" fill="#7c1690"/><path d="M218.50 305.52L222.45 309.47L218.50 313.42L214.55 309.47Z" fill="#7c1690"/><path d="M225.23 311.26L229.18 315.21L225.23 319.16L221.28 315.21Z" fill="#7c1690"/><path d="M231.96 336.63L235.91 340.58L231.96 344.53L228.01 340.58Z" fill="#7c1690"/><path d="M238.69 338.44L242.64 342.39L238.69 346.34L234.74 342.39Z" fill="#7c1690"/><path d="M245.43 352.86L249.38 356.81L245.43 360.76L241.48 356.81Z" fill="#7c1690"/><path d="M252.16 342.44L256.11 346.39L252.16 350.34L248.21 346.39Z" fill="#7c1690"/><path d="M258.89 347.72L262.84 351.67L258.89 355.62L254.94 351.67Z" fill="#7c1690"/><path d="M265.62 360.63L269.57 364.58L265.62 368.53L261.67 364.58Z" fill="#7c1690"/><path d="M272.35 365.09L276.30 369.04L272.35 372.99L268.40 369.04Z" fill="#7c1690"/><path d="M279.09 369.01L283.04 372.96L279.09 376.91L275.14 372.96Z" fill="#7c1690"/><path d="M285.82 370.14L289.77 374.09L285.82 378.04L281.87 374.09Z" fill="#7c1690"/><path d="M292.55 369.54L296.50 373.49L292.55 377.44L288.60 373.49Z" fill="#7c1690"/><path d="M299.28 368.41L303.23 372.36L299.28 376.31L295.33 372.36Z" fill="#7c1690"/><path d="M306.01 386.75L309.96 390.70L306.01 394.65L302.06 390.70Z" fill="#7c1690"/><path d="M312.74 394.30L316.69 398.25L312.74 402.20L308.79 398.25Z" fill="#7c1690"/><path d="M319.48 394.30L323.43 398.25L319.48 402.20L315.53 398.25Z" fill="#7c1690"/><path d="M326.21 394.30L330.16 398.25L326.21 402.20L322.26 398.25Z" fill="#7c1690"/><path d="M332.94 394.30L336.89 398.25L332.94 402.20L328.99 398.25Z" fill="#7c1690"/><path d="M339.67 394.30L343.62 398.25L339.67 402.20L335.72 398.25Z" fill="#7c1690"/><path d="M346.40 392.04L350.35 395.99L346.40 399.94L342.45 395.99Z" fill="#7c1690"/><path d="M353.14 393.17L357.09 397.12L353.14 401.07L349.19 397.12Z" fill="#7c1690"/><path d="M359.87 393.17L363.82 397.12L359.87 401.07L355.92 397.12Z" fill="#7c1690"/><path d="M366.60 389.39L370.55 393.34L366.60 397.29L362.65 393.34Z" fill="#7c1690"/><path d="M373.33 382.22L377.28 386.17L373.33 390.12L369.38 386.17Z" fill="#7c1690"/><path d="M380.06 349.53L384.01 353.48L380.06 357.43L376.11 353.48Z" fill="#7c1690"/><path d="M386.80 317.30L390.75 321.25L386.80 325.20L382.85 321.25Z" fill="#7c1690"/><path d="M393.53 322.36L397.48 326.31L393.53 330.26L389.58 326.31Z" fill="#7c1690"/><path d="M400.26 341.76L404.21 345.71L400.26 349.66L396.31 345.71Z" fill="#7c1690"/><path d="M406.99 376.56L410.94 380.51L406.99 384.46L403.04 380.51Z" fill="#7c1690"/><path d="M413.72 376.18L417.67 380.13L413.72 384.08L409.77 380.13Z" fill="#7c1690"/><path d="M420.46 394.30L424.41 398.25L420.46 402.20L416.51 398.25Z" fill="#7c1690"/><path d="M427.19 394.30L431.14 398.25L427.19 402.20L423.24 398.25Z" fill="#7c1690"/><path d="M433.92 386.90L437.87 390.85L433.92 394.80L429.97 390.85Z" fill="#7c1690"/><path d="M440.65 313.98L444.60 317.93L440.65 321.88L436.70 317.93Z" fill="#7c1690"/><path d="M447.38 303.71L451.33 307.66L447.38 311.61L443.43 307.66Z" fill="#7c1690"/><path d="M454.11 349.53L458.06 353.48L454.11 357.43L450.16 353.48Z" fill="#7c1690"/><path d="M460.85 355.80L464.80 359.75L460.85 363.70L456.90 359.75Z" fill="#7c1690"/><path d="M467.58 361.08L471.53 365.03L467.58 368.98L463.63 365.03Z" fill="#7c1690"/><path d="M474.31 376.18L478.26 380.13L474.31 384.08L470.36 380.13Z" fill="#7c1690"/><path d="M481.04 356.18L484.99 360.13L481.04 364.08L477.09 360.13Z" fill="#7c1690"/><path d="M487.77 376.18L491.72 380.13L487.77 384.08L483.82 380.13Z" fill="#7c1690"/><path d="M494.51 366.22L498.46 370.17L494.51 374.12L490.56 370.17Z" fill="#7c1690"/><path d="M501.24 381.77L505.19 385.72L501.24 389.67L497.29 385.72Z" fill="#7c1690"/><path d="M507.97 372.86L511.92 376.81L507.97 380.76L504.02 376.81Z" fill="#7c1690"/><path d="M514.70 369.54L518.65 373.49L514.70 377.44L510.75 373.49Z" fill="#7c1690"/><path d="M521.43 372.86L525.38 376.81L521.43 380.76L517.48 376.81Z" fill="#7c1690"/><path d="M528.17 380.71L532.12 384.66L528.17 388.61L524.22 384.66Z" fill="#7c1690"/><path d="M534.90 386.22L538.85 390.17L534.90 394.12L530.95 390.17Z" fill="#7c1690"/><path d="M541.63 385.24L545.58 389.19L541.63 393.14L537.68 389.19Z" fill="#7c1690"/><path d="M548.36 390.60L552.31 394.55L548.36 398.50L544.41 394.55Z" fill="#7c1690"/><path d="M555.09 380.71L559.04 384.66L555.09 388.61L551.14 384.66Z" fill="#7c1690"/><path d="M561.83 380.18L565.78 384.13L561.83 388.08L557.88 384.13Z" fill="#7c1690"/><path d="M568.56 349.99L572.51 353.94L568.56 357.89L564.61 353.94Z" fill="#7c1690"/><path d="M575.29 341.76L579.24 345.71L575.29 349.66L571.34 345.71Z" fill="#7c1690"/><path d="M582.02 357.31L585.97 361.26L582.02 365.21L578.07 361.26Z" fill="#7c1690"/><path d="M588.75 368.41L592.70 372.36L588.75 376.31L584.80 372.36Z" fill="#7c1690"/><path d="M595.49 377.99L599.44 381.94L595.49 385.89L591.54 381.94Z" fill="#7c1690"/><path d="M602.22 386.22L606.17 390.17L602.22 394.12L598.27 390.17Z" fill="#7c1690"/><path d="M608.95 394.30L612.90 398.25L608.95 402.20L605.00 398.25Z" fill="#7c1690"/><path d="M615.68 394.30L619.63 398.25L615.68 402.20L611.73 398.25Z" fill="#7c1690"/><path d="M622.41 394.30L626.36 398.25L622.41 402.20L618.46 398.25Z" fill="#7c1690"/><path d="M629.14 394.30L633.09 398.25L629.14 402.20L625.19 398.25Z" fill="#7c1690"/><path d="M635.88 394.30L639.83 398.25L635.88 402.20L631.93 398.25Z" fill="#7c1690"/><path d="M642.61 394.30L646.56 398.25L642.61 402.20L638.66 398.25Z" fill="#7c1690"/><path d="M649.34 394.30L653.29 398.25L649.34 402.20L645.39 398.25Z" fill="#7c1690"/><path d="M656.07 394.30L660.02 398.25L656.07 402.20L652.12 398.25Z" fill="#7c1690"/><path d="M662.80 394.30L666.75 398.25L662.80 402.20L658.85 398.25Z" fill="#7c1690"/><path d="M669.54 394.30L673.49 398.25L669.54 402.20L665.59 398.25Z" fill="#7c1690"/><path d="M676.27 394.30L680.22 398.25L676.27 402.20L672.32 398.25Z" fill="#7c1690"/><path d="M683.00 394.30L686.95 398.25L683.00 402.20L679.05 398.25Z" fill="#7c1690"/></g>
<polyline points="50.20,398.25 56.93,398.25 63.66,398.25 70.40,398.25 77.13,398.25 83.86,398.25 90.59,398.25 97.32,395.08 104.06,396.74 110.79,396.74 117.52,389.19 124.25,390.17 130.98,383.45 137.71,373.49 144.45,373.04 151.18,381.94 157.91,362.01 164.64,359.75 171.37,354.47 178.11,350.69 184.84,340.12 191.57,347.67 198.30,346.92 205.03,328.04 211.77,311.44 218.50,309.17 225.23,315.97 231.96,340.12 238.69,342.39 245.43,353.71 252.16,352.35 258.89,368.58 265.62,368.05 272.35,365.03 279.09,365.03 285.82,363.15 292.55,371.07 299.28,377.34 306.01,392.21 312.74,398.25 319.48,398.25 326.21,398.25 332.94,398.25 339.67,398.25 346.40,398.25 353.14,398.25 359.87,396.74 366.60,388.44 373.33,384.28 380.06,390.17 386.80,380.13 393.53,374.09 400.26,368.58 406.99,382.40 413.72,389.04 420.46,398.25 427.19,398.25 433.92,395.99 440.65,393.72 447.38,390.17 454.11,376.81 460.85,377.94 467.58,363.52 474.31,364.58 481.04,356.73 487.77,375.60 494.51,379.00 501.24,395.99 507.97,373.49 514.70,374.62 521.43,382.02 528.17,379.00 534.90,381.26 541.63,386.93 548.36,392.36 555.09,390.17 561.83,390.17 568.56,380.59 575.29,384.66 582.02,387.91 588.75,391.23 595.49,391.76 602.22,395.68 608.95,398.25 615.68,398.25 622.41,398.25 629.14,398.25 635.88,398.25 642.61,398.25 649.34,398.25 656.07,398.25 662.80,398.25 669.54,398.25 676.27,398.25 683.00,398.25" stroke="#7c1690" stroke-width="2.55"/>
<g><path d="M50.20 395.70L50.85 397.70L52.96 397.70L51.25 398.94L51.90 400.95L50.20 399.71L48.50 400.95L49.15 398.94L47.44 397.70L49.55 397.70Z" fill="#7c1690"/><path d="M56.93 395.70L57.58 397.70L59.69 397.70L57.99 398.94L58.64 400.95L56.93 399.71L55.23 400.95L55.88 398.94L54.17 397.70L56.28 397.70Z" fill="#7c1690"/><path d="M63.66 395.70L64.31 397.70L66.42 397.70L64.72 398.94L65.37 400.95L63.66 399.71L61.96 400.95L62.61 398.94L60.91 397.70L63.01 397.70Z" fill="#7c1690"/><path d="M70.40 395.70L71.05 397.70L73.15 397.70L71.45 398.94L72.10 400.95L70.40 399.71L68.69 400.95L69.34 398.94L67.64 397.70L69.74 397.70Z" fill="#7c1690"/><path d="M77.13 395.70L77.78 397.70L79.89 397.70L78.18 398.94L78.83 400.95L77.13 399.71L75.42 400.95L76.07 398.94L74.37 397.70L76.48 397.70Z" fill="#7c1690"/><path d="M83.86 395.70L84.51 397.70L86.62 397.70L84.91 398.94L85.56 400.95L83.86 399.71L82.15 400.95L82.81 398.94L81.10 397.70L83.21 397.70Z" fill="#7c1690"/><path d="M90.59 395.70L91.24 397.70L93.35 397.70L91.64 398.94L92.30 400.95L90.59 399.71L88.89 400.95L89.54 398.94L87.83 397.70L89.94 397.70Z" fill="#7c1690"/><path d="M97.32 392.53L97.97 394.53L100.08 394.53L98.38 395.77L99.03 397.78L97.32 396.54L95.62 397.78L96.27 395.77L94.57 394.53L96.67 394.53Z" fill="#7c1690"/><path d="M104.06 394.19L104.71 396.19L106.81 396.19L105.11 397.43L105.76 399.44L104.06 398.20L102.35 399.44L103.00 397.43L101.30 396.19L103.40 396.19Z" fill="#7c1690"/><path d="M110.79 394.19L111.44 396.19L113.55 396.19L111.84 397.43L112.49 399.44L110.79 398.20L109.08 399.44L109.73 397.43L108.03 396.19L110.14 396.19Z" fill="#7c1690"/><path d="M117.52 386.64L118.17 388.65L120.28 388.65L118.57 389.88L119.22 391.89L117.52 390.65L115.81 391.89L116.47 389.88L114.76 388.65L116.87 388.65Z" fill="#7c1690"/><path d="M124.25 387.62L124.90 389.63L127.01 389.63L125.30 390.86L125.96 392.87L124.25 391.63L122.55 392.87L123.20 390.86L121.49 389.63L123.60 389.63Z" fill="#7c1690"/><path d="M130.98 380.90L131.63 382.91L133.74 382.91L132.04 384.15L132.69 386.15L130.98 384.91L129.28 386.15L129.93 384.15L128.22 382.91L130.33 382.91Z" fill="#7c1690"/><path d="M137.71 370.94L138.37 372.94L140.47 372.94L138.77 374.18L139.42 376.19L137.71 374.95L136.01 376.19L136.66 374.18L134.96 372.94L137.06 372.94Z" fill="#7c1690"/><path d="M144.45 370.49L145.10 372.49L147.20 372.49L145.50 373.73L146.15 375.73L144.45 374.49L142.74 375.73L143.39 373.73L141.69 372.49L143.80 372.49Z" fill="#7c1690"/><path d="M151.18 379.39L151.83 381.40L153.94 381.40L152.23 382.64L152.88 384.64L151.18 383.40L149.47 384.64L150.13 382.64L148.42 381.40L150.53 381.40Z" fill="#7c1690"/><path d="M157.91 359.46L158.56 361.47L160.67 361.47L158.96 362.71L159.62 364.71L157.91 363.47L156.21 364.71L156.86 362.71L155.15 361.47L157.26 361.47Z" fill="#7c1690"/><path d="M164.64 357.20L165.29 359.20L167.40 359.20L165.70 360.44L166.35 362.45L164.64 361.21L162.94 362.45L163.59 360.44L161.88 359.20L163.99 359.20Z" fill="#7c1690"/><path d="M171.37 351.92L172.03 353.92L174.13 353.92L172.43 355.16L173.08 357.16L171.37 355.92L169.67 357.16L170.32 355.16L168.62 353.92L170.72 353.92Z" fill="#7c1690"/><path d="M178.11 348.14L178.76 350.15L180.86 350.15L179.16 351.38L179.81 353.39L178.11 352.15L176.40 353.39L177.05 351.38L175.35 350.15L177.46 350.15Z" fill="#7c1690"/><path d="M184.84 337.57L185.49 339.58L187.60 339.58L185.89 340.81L186.54 342.82L184.84 341.58L183.13 342.82L183.78 340.81L182.08 339.58L184.19 339.58Z" fill="#7c1690"/><path d="M191.57 345.12L192.22 347.13L194.33 347.13L192.62 348.36L193.27 350.37L191.57 349.13L189.87 350.37L190.52 348.36L188.81 347.13L190.92 347.13Z" fill="#7c1690"/><path d="M198.30 344.37L198.95 346.37L201.06 346.37L199.36 347.61L200.01 349.61L198.30 348.37L196.60 349.61L197.25 347.61L195.54 346.37L197.65 346.37Z" fill="#7c1690"/><path d="M205.03 325.49L205.69 327.50L207.79 327.50L206.09 328.74L206.74 330.74L205.03 329.50L203.33 330.74L203.98 328.74L202.28 327.50L204.38 327.50Z" fill="#7c1690"/><path d="M211.77 308.89L212.42 310.89L214.52 310.89L212.82 312.13L213.47 314.13L211.77 312.89L210.06 314.13L210.71 312.13L209.01 310.89L211.11 310.89Z" fill="#7c1690"/><path d="M218.50 306.62L219.15 308.63L221.26 308.63L219.55 309.86L220.20 311.87L218.50 310.63L216.79 311.87L217.44 309.86L215.74 308.63L217.85 308.63Z" fill="#7c1690"/><path d="M225.23 313.42L225.88 315.42L227.99 315.42L226.28 316.66L226.93 318.66L225.23 317.42L223.53 318.66L224.18 316.66L222.47 315.42L224.58 315.42Z" fill="#7c1690"/><path d="M231.96 337.57L232.61 339.58L234.72 339.58L233.02 340.81L233.67 342.82L231.96 341.58L230.26 342.82L230.91 340.81L229.20 339.58L231.31 339.58Z" fill="#7c1690"/><path d="M238.69 339.84L239.34 341.84L241.45 341.84L239.75 343.08L240.40 345.08L238.69 343.85L236.99 345.08L237.64 343.08L235.94 341.84L238.04 341.84Z" fill="#7c1690"/><path d="M245.43 351.16L246.08 353.16L248.18 353.16L246.48 354.40L247.13 356.41L245.43 355.17L243.72 356.41L244.37 354.40L242.67 353.16L244.77 353.16Z" fill="#7c1690"/><path d="M252.16 349.80L252.81 351.81L254.92 351.81L253.21 353.04L253.86 355.05L252.16 353.81L250.45 355.05L251.10 353.04L249.40 351.81L251.51 351.81Z" fill="#7c1690"/><path d="M258.89 366.03L259.54 368.04L261.65 368.04L259.94 369.27L260.59 371.28L258.89 370.04L257.18 371.28L257.84 369.27L256.13 368.04L258.24 368.04Z" fill="#7c1690"/><path d="M265.62 365.50L266.27 367.51L268.38 367.51L266.67 368.75L267.33 370.75L265.62 369.51L263.92 370.75L264.57 368.75L262.86 367.51L264.97 367.51Z" fill="#7c1690"/><path d="M272.35 362.48L273.00 364.49L275.11 364.49L273.41 365.73L274.06 367.73L272.35 366.49L270.65 367.73L271.30 365.73L269.60 364.49L271.70 364.49Z" fill="#7c1690"/><path d="M279.09 362.48L279.74 364.49L281.84 364.49L280.14 365.73L280.79 367.73L279.09 366.49L277.38 367.73L278.03 365.73L276.33 364.49L278.43 364.49Z" fill="#7c1690"/><path d="M285.82 360.60L286.47 362.60L288.58 362.60L286.87 363.84L287.52 365.84L285.82 364.60L284.11 365.84L284.76 363.84L283.06 362.60L285.17 362.60Z" fill="#7c1690"/><path d="M292.55 368.52L293.20 370.53L295.31 370.53L293.60 371.77L294.25 373.77L292.55 372.53L290.84 373.77L291.50 371.77L289.79 370.53L291.90 370.53Z" fill="#7c1690"/><path d="M299.28 374.79L299.93 376.79L302.04 376.79L300.33 378.03L300.99 380.04L299.28 378.80L297.58 380.04L298.23 378.03L296.52 376.79L298.63 376.79Z" fill="#7c1690"/><path d="M306.01 389.66L306.66 391.66L308.77 391.66L307.07 392.90L307.72 394.91L306.01 393.67L304.31 394.91L304.96 392.90L303.25 391.66L305.36 391.66Z" fill="#7c1690"/><path d="M312.74 395.70L313.40 397.70L315.50 397.70L313.80 398.94L314.45 400.95L312.74 399.71L311.04 400.95L311.69 398.94L309.99 397.70L312.09 397.70Z" fill="#7c1690"/><path d="M319.48 395.70L320.13 397.70L322.23 397.70L320.53 398.94L321.18 400.95L319.48 399.71L317.77 400.95L318.42 398.94L316.72 397.70L318.83 397.70Z" fill="#7c1690"/><path d="M326.21 395.70L326.86 397.70L328.97 397.70L327.26 398.94L327.91 400.95L326.21 399.71L324.50 400.95L325.16 398.94L323.45 397.70L325.56 397.70Z" fill="#7c1690"/><path d="M332.94 395.70L333.59 397.70L335.70 397.70L333.99 398.94L334.65 400.95L332.94 399.71L331.24 400.95L331.89 398.94L330.18 397.70L332.29 397.70Z" fill="#7c1690"/><path d="M339.67 395.70L340.32 397.70L342.43 397.70L340.73 398.94L341.38 400.95L339.67 399.71L337.97 400.95L338.62 398.94L336.91 397.70L339.02 397.70Z" fill="#7c1690"/><path d="M346.40 395.70L347.06 397.70L349.16 397.70L347.46 398.94L348.11 400.95L346.40 399.71L344.70 400.95L345.35 398.94L343.65 397.70L345.75 397.70Z" fill="#7c1690"/><path d="M353.14 395.70L353.79 397.70L355.89 397.70L354.19 398.94L354.84 400.95L353.14 399.71L351.43 400.95L352.08 398.94L350.38 397.70L352.49 397.70Z" fill="#7c1690"/><path d="M359.87 394.19L360.52 396.19L362.63 396.19L360.92 397.43L361.57 399.44L359.87 398.20L358.16 399.44L358.81 397.43L357.11 396.19L359.22 396.19Z" fill="#7c1690"/><path d="M366.60 385.89L367.25 387.89L369.36 387.89L367.65 389.13L368.30 391.13L366.60 389.89L364.90 391.13L365.55 389.13L363.84 387.89L365.95 387.89Z" fill="#7c1690"/><path d="M373.33 381.73L373.98 383.74L376.09 383.74L374.39 384.98L375.04 386.98L373.33 385.74L371.63 386.98L372.28 384.98L370.57 383.74L372.68 383.74Z" fill="#7c1690"/><path d="M380.06 387.62L380.71 389.63L382.82 389.63L381.12 390.86L381.77 392.87L380.06 391.63L378.36 392.87L379.01 390.86L377.31 389.63L379.41 389.63Z" fill="#7c1690"/><path d="M386.80 377.58L387.45 379.59L389.55 379.59L387.85 380.82L388.50 382.83L386.80 381.59L385.09 382.83L385.74 380.82L384.04 379.59L386.14 379.59Z" fill="#7c1690"/><path d="M393.53 371.54L394.18 373.55L396.29 373.55L394.58 374.79L395.23 376.79L393.53 375.55L391.82 376.79L392.47 374.79L390.77 373.55L392.88 373.55Z" fill="#7c1690"/><path d="M400.26 366.03L400.91 368.04L403.02 368.04L401.31 369.27L401.96 371.28L400.26 370.04L398.55 371.28L399.21 369.27L397.50 368.04L399.61 368.04Z" fill="#7c1690"/><path d="M406.99 379.85L407.64 381.85L409.75 381.85L408.04 383.09L408.70 385.09L406.99 383.85L405.29 385.09L405.94 383.09L404.23 381.85L406.34 381.85Z" fill="#7c1690"/><path d="M413.72 386.49L414.37 388.49L416.48 388.49L414.78 389.73L415.43 391.74L413.72 390.50L412.02 391.74L412.67 389.73L410.97 388.49L413.07 388.49Z" fill="#7c1690"/><path d="M420.46 395.70L421.11 397.70L423.21 397.70L421.51 398.94L422.16 400.95L420.46 399.71L418.75 400.95L419.40 398.94L417.70 397.70L419.80 397.70Z" fill="#7c1690"/><path d="M427.19 395.70L427.84 397.70L429.95 397.70L428.24 398.94L428.89 400.95L427.19 399.71L425.48 400.95L426.13 398.94L424.43 397.70L426.54 397.70Z" fill="#7c1690"/><path d="M433.92 393.44L434.57 395.44L436.68 395.44L434.97 396.68L435.62 398.68L433.92 397.44L432.21 398.68L432.87 396.68L431.16 395.44L433.27 395.44Z" fill="#7c1690"/><path d="M440.65 391.17L441.30 393.17L443.41 393.17L441.70 394.41L442.36 396.42L440.65 395.18L438.95 396.42L439.60 394.41L437.89 393.17L440.00 393.17Z" fill="#7c1690"/><path d="M447.38 387.62L448.03 389.63L450.14 389.63L448.44 390.86L449.09 392.87L447.38 391.63L445.68 392.87L446.33 390.86L444.62 389.63L446.73 389.63Z" fill="#7c1690"/><path d="M454.11 374.26L454.77 376.26L456.87 376.26L455.17 377.50L455.82 379.51L454.11 378.27L452.41 379.51L453.06 377.50L451.36 376.26L453.46 376.26Z" fill="#7c1690"/><path d="M460.85 375.39L461.50 377.40L463.60 377.40L461.90 378.64L462.55 380.64L460.85 379.40L459.14 380.64L459.79 378.64L458.09 377.40L460.20 377.40Z" fill="#7c1690"/><path d="M467.58 360.97L468.23 362.98L470.34 362.98L468.63 364.22L469.28 366.22L467.58 364.98L465.87 366.22L466.53 364.22L464.82 362.98L466.93 362.98Z" fill="#7c1690"/><path d="M474.31 362.03L474.96 364.04L477.07 364.04L475.36 365.27L476.02 367.28L474.31 366.04L472.61 367.28L473.26 365.27L471.55 364.04L473.66 364.04Z" fill="#7c1690"/><path d="M481.04 354.18L481.69 356.18L483.80 356.18L482.10 357.42L482.75 359.43L481.04 358.19L479.34 359.43L479.99 357.42L478.28 356.18L480.39 356.18Z" fill="#7c1690"/><path d="M487.77 373.05L488.43 375.06L490.53 375.06L488.83 376.30L489.48 378.30L487.77 377.06L486.07 378.30L486.72 376.30L485.02 375.06L487.12 375.06Z" fill="#7c1690"/><path d="M494.51 376.45L495.16 378.45L497.26 378.45L495.56 379.69L496.21 381.70L494.51 380.46L492.80 381.70L493.45 379.69L491.75 378.45L493.86 378.45Z" fill="#7c1690"/><path d="M501.24 393.44L501.89 395.44L504.00 395.44L502.29 396.68L502.94 398.68L501.24 397.44L499.53 398.68L500.18 396.68L498.48 395.44L500.59 395.44Z" fill="#7c1690"/><path d="M507.97 370.94L508.62 372.94L510.73 372.94L509.02 374.18L509.67 376.19L507.97 374.95L506.27 376.19L506.92 374.18L505.21 372.94L507.32 372.94Z" fill="#7c1690"/><path d="M514.70 372.07L515.35 374.08L517.46 374.08L515.76 375.31L516.41 377.32L514.70 376.08L513.00 377.32L513.65 375.31L511.94 374.08L514.05 374.08Z" fill="#7c1690"/><path d="M521.43 379.47L522.09 381.47L524.19 381.47L522.49 382.71L523.14 384.72L521.43 383.48L519.73 384.72L520.38 382.71L518.68 381.47L520.78 381.47Z" fill="#7c1690"/><path d="M528.17 376.45L528.82 378.45L530.92 378.45L529.22 379.69L529.87 381.70L528.17 380.46L526.46 381.70L527.11 379.69L525.41 378.45L527.51 378.45Z" fill="#7c1690"/><path d="M534.90 378.71L535.55 380.72L537.66 380.72L535.95 381.96L536.60 383.96L534.90 382.72L533.19 383.96L533.84 381.96L532.14 380.72L534.25 380.72Z" fill="#7c1690"/><path d="M541.63 384.38L542.28 386.38L544.39 386.38L542.68 387.62L543.33 389.62L541.63 388.38L539.93 389.62L540.58 387.62L538.87 386.38L540.98 386.38Z" fill="#7c1690"/><path d="M548.36 389.81L549.01 391.82L551.12 391.82L549.42 393.05L550.07 395.06L548.36 393.82L546.66 395.06L547.31 393.05L545.60 391.82L547.71 391.82Z" fill="#7c1690"/><path d="M555.09 387.62L555.74 389.63L557.85 389.63L556.15 390.86L556.80 392.87L555.09 391.63L553.39 392.87L554.04 390.86L552.34 389.63L554.44 389.63Z" fill="#7c1690"/><path d="M561.83 387.62L562.48 389.63L564.58 389.63L562.88 390.86L563.53 392.87L561.83 391.63L560.12 392.87L560.77 390.86L559.07 389.63L561.17 389.63Z" fill="#7c1690"/><path d="M568.56 378.04L569.21 380.04L571.32 380.04L569.61 381.28L570.26 383.28L568.56 382.04L566.85 383.28L567.50 381.28L565.80 380.04L567.91 380.04Z" fill="#7c1690"/><path d="M575.29 382.11L575.94 384.12L578.05 384.12L576.34 385.35L576.99 387.36L575.29 386.12L573.58 387.36L574.24 385.35L572.53 384.12L574.64 384.12Z" fill="#7c1690"/><path d="M582.02 385.36L582.67 387.36L584.78 387.36L583.07 388.60L583.73 390.60L582.02 389.37L580.32 390.60L580.97 388.60L579.26 387.36L581.37 387.36Z" fill="#7c1690"/><path d="M588.75 388.68L589.40 390.68L591.51 390.68L589.81 391.92L590.46 393.93L588.75 392.69L587.05 393.93L587.70 391.92L586.00 390.68L588.10 390.68Z" fill="#7c1690"/><path d="M595.49 389.21L596.14 391.21L598.24 391.21L596.54 392.45L597.19 394.45L595.49 393.22L593.78 394.45L594.43 392.45L592.73 391.21L594.83 391.21Z" fill="#7c1690"/><path d="M602.22 393.13L602.87 395.14L604.98 395.14L603.27 396.38L603.92 398.38L602.22 397.14L600.51 398.38L601.16 396.38L599.46 395.14L601.57 395.14Z" fill="#7c1690"/><path d="M608.95 395.70L609.60 397.70L611.71 397.70L610.00 398.94L610.65 400.95L608.95 399.71L607.24 400.95L607.90 398.94L606.19 397.70L608.30 397.70Z" fill="#7c1690"/><path d="M615.68 395.70L616.33 397.70L618.44 397.70L616.73 398.94L617.39 400.95L615.68 399.71L613.98 400.95L614.63 398.94L612.92 397.70L615.03 397.70Z" fill="#7c1690"/><path d="M622.41 395.70L623.06 397.70L625.17 397.70L623.47 398.94L624.12 400.95L622.41 399.71L620.71 400.95L621.36 398.94L619.65 397.70L621.76 397.70Z" fill="#7c1690"/><path d="M629.14 395.70L629.80 397.70L631.90 397.70L630.20 398.94L630.85 400.95L629.14 399.71L627.44 400.95L628.09 398.94L626.39 397.70L628.49 397.70Z" fill="#7c1690"/><path d="M635.88 395.70L636.53 397.70L638.63 397.70L636.93 398.94L637.58 400.95L635.88 399.71L634.17 400.95L634.82 398.94L633.12 397.70L635.23 397.70Z" fill="#7c1690"/><path d="M642.61 395.70L643.26 397.70L645.37 397.70L643.66 398.94L644.31 400.95L642.61 399.71L640.90 400.95L641.56 398.94L639.85 397.70L641.96 397.70Z" fill="#7c1690"/><path d="M649.34 395.70L649.99 397.70L652.10 397.70L650.39 398.94L651.05 400.95L649.34 399.71L647.64 400.95L648.29 398.94L646.58 397.70L648.69 397.70Z" fill="#7c1690"/><path d="M656.07 395.70L656.72 397.70L658.83 397.70L657.13 398.94L657.78 400.95L656.07 399.71L654.37 400.95L655.02 398.94L653.31 397.70L655.42 397.70Z" fill="#7c1690"/><path d="M662.80 395.70L663.46 397.70L665.56 397.70L663.86 398.94L664.51 400.95L662.80 399.71L661.10 400.95L661.75 398.94L660.05 397.70L662.15 397.70Z" fill="#7c1690"/><path d="M669.54 395.70L670.19 397.70L672.29 397.70L670.59 398.94L671.24 400.95L669.54 399.71L667.83 400.95L668.48 398.94L666.78 397.70L668.89 397.70Z" fill="#7c1690"/><path d="M676.27 395.70L676.92 397.70L679.03 397.70L677.32 398.94L677.97 400.95L676.27 399.71L674.56 400.95L675.21 398.94L673.51 397.70L675.62 397.70Z" fill="#7c1690"/><path d="M683.00 395.70L683.65 397.70L685.76 397.70L684.05 398.94L684.70 400.95L683.00 399.71L681.30 400.95L681.95 398.94L680.24 397.70L682.35 397.70Z" fill="#7c1690"/></g>
</g>
<rect x="49.8" y="2.1" width="633.2" height="404.0" fill="none" stroke="#262626" stroke-width="0.8"/>
<line x1="49.90" y1="406.1" x2="49.90" y2="409.0" stroke="#262626" stroke-width="0.8"/>
<text class="tk" x="49.65" y="424.0" text-anchor="middle">0</text>
<line x1="129.28" y1="406.1" x2="129.28" y2="409.0" stroke="#262626" stroke-width="0.8"/>
<text class="tk" x="129.03" y="424.0" text-anchor="middle">2</text>
<line x1="208.67" y1="406.1" x2="208.67" y2="409.0" stroke="#262626" stroke-width="0.8"/>
<text class="tk" x="208.42" y="424.0" text-anchor="middle">4</text>
<line x1="288.05" y1="406.1" x2="288.05" y2="409.0" stroke="#262626" stroke-width="0.8"/>
<text class="tk" x="287.80" y="424.0" text-anchor="middle">6</text>
<line x1="367.43" y1="406.1" x2="367.43" y2="409.0" stroke="#262626" stroke-width="0.8"/>
<text class="tk" x="367.18" y="424.0" text-anchor="middle">8</text>
<line x1="446.82" y1="406.1" x2="446.82" y2="409.0" stroke="#262626" stroke-width="0.8"/>
<text class="tk" x="446.57" y="424.0" text-anchor="middle">10</text>
<line x1="526.20" y1="406.1" x2="526.20" y2="409.0" stroke="#262626" stroke-width="0.8"/>
<text class="tk" x="525.95" y="424.0" text-anchor="middle">12</text>
<line x1="605.58" y1="406.1" x2="605.58" y2="409.0" stroke="#262626" stroke-width="0.8"/>
<text class="tk" x="605.33" y="424.0" text-anchor="middle">14</text>
<line x1="46.9" y1="398.25" x2="49.8" y2="398.25" stroke="#262626" stroke-width="0.8"/>
<text class="tk" x="44.0" y="404.75" text-anchor="end">0</text>
<line x1="46.9" y1="322.76" x2="49.8" y2="322.76" stroke="#262626" stroke-width="0.8"/>
<text class="tk" x="44.0" y="329.26" text-anchor="end">10</text>
<line x1="46.9" y1="247.27" x2="49.8" y2="247.27" stroke="#262626" stroke-width="0.8"/>
<text class="tk" x="44.0" y="253.77" text-anchor="end">20</text>
<line x1="46.9" y1="171.78" x2="49.8" y2="171.78" stroke="#262626" stroke-width="0.8"/>
<text class="tk" x="44.0" y="178.28" text-anchor="end">30</text>
<line x1="46.9" y1="96.29" x2="49.8" y2="96.29" stroke="#262626" stroke-width="0.8"/>
<text class="tk" x="44.0" y="102.79" text-anchor="end">40</text>
<line x1="46.9" y1="20.80" x2="49.8" y2="20.80" stroke="#262626" stroke-width="0.8"/>
<text class="tk" x="44.0" y="27.30" text-anchor="end">50</text>
<text class="lb" x="331.0" y="445.6"><tspan class="it">ω</tspan><tspan dx="-1.7"> (THz)</tspan></text>
<text class="lb" transform="translate(15.8,203.4) rotate(-90) scale(1,1.045)" text-anchor="middle">Ξ</text>
<rect x="379.8" y="10.0" width="295.0" height="172.9" rx="3" ry="3" fill="#fff" fill-opacity="0.8" stroke="#ccc" stroke-opacity="0.7" stroke-width="1"/>
<line x1="384.9" y1="23.2" x2="420.0" y2="23.2" stroke="#000" stroke-width="2.55"/>
<text class="lg" x="431.6" y="28.85">Pure phase</text>
<line x1="384.9" y1="47.1" x2="420.0" y2="47.1" stroke="#ff0000" stroke-width="2.55"/>
<circle cx="402.45" cy="47.10" r="2.9" fill="#ff0000"/>
<text class="lg mt" x="431.6" y="52.75">Total<tspan dx="3.3">−</tspan><tspan dx="2.0">C</tspan><tspan class="sub" dy="3.4" dx="0.4">10v</tspan></text>
<line x1="384.9" y1="71.0" x2="420.0" y2="71.0" stroke="#0000ff" stroke-width="2.55"/>
<rect x="399.50" y="68.05" width="5.9" height="5.9" fill="#0000ff"/>
<text class="lg mt" x="431.6" y="76.65">Total<tspan dx="3.3">−</tspan><tspan dx="2.0">C</tspan><tspan class="sub" dy="3.4" dx="0.4">1</tspan></text>
<line x1="384.9" y1="95.1" x2="420.0" y2="95.1" stroke="#2f9120" stroke-width="2.55" stroke-dasharray="2.5 3.85" stroke-dashoffset="5.35"/>
<path d="M402.45 91.15L406.40 95.10L402.45 99.05L398.50 95.10Z" fill="#2f9120"/>
<text class="lg mt" x="431.6" y="100.75">Block<tspan dx="3.3">−</tspan><tspan dx="2.0">diagonal</tspan><tspan dx="3.3">−</tspan><tspan dx="2.0">C</tspan><tspan class="sub" dy="3.4" dx="0.4">10v</tspan></text>
<line x1="384.9" y1="119.35" x2="420.0" y2="119.35" stroke="#2f9120" stroke-width="2.55"/>
<path d="M402.45 116.80L403.10 118.80L405.21 118.80L403.50 120.04L404.15 122.05L402.45 120.81L400.75 122.05L401.40 120.04L399.69 118.80L401.80 118.80Z" fill="#2f9120"/>
<text class="lg mt" x="431.6" y="125.00">Non<tspan dx="3.3">−</tspan><tspan dx="2.0">block</tspan><tspan dx="3.3">−</tspan><tspan dx="2.0">diagonal</tspan><tspan dx="3.3">−</tspan><tspan dx="2.0">C</tspan><tspan class="sub" dy="3.4" dx="0.4">10v</tspan></text>
<line x1="384.9" y1="143.6" x2="420.0" y2="143.6" stroke="#7c1690" stroke-width="2.55" stroke-dasharray="2.5 3.85" stroke-dashoffset="5.35"/>
<path d="M402.45 139.65L406.40 143.60L402.45 147.55L398.50 143.60Z" fill="#7c1690"/>
<text class="lg mt" x="431.6" y="149.25">Block<tspan dx="3.3">−</tspan><tspan dx="2.0">diagonal</tspan><tspan dx="3.3">−</tspan><tspan dx="2.0">C</tspan><tspan class="sub" dy="3.4" dx="0.4">1</tspan></text>
<line x1="384.9" y1="168.0" x2="420.0" y2="168.0" stroke="#7c1690" stroke-width="2.55"/>
<path d="M402.45 165.45L403.10 167.45L405.21 167.45L403.50 168.69L404.15 170.70L402.45 169.46L400.75 170.70L401.40 168.69L399.69 167.45L401.80 167.45Z" fill="#7c1690"/>
<text class="lg mt" x="431.6" y="173.65">Non<tspan dx="3.3">−</tspan><tspan dx="2.0">block</tspan><tspan dx="3.3">−</tspan><tspan dx="2.0">diagonal</tspan><tspan dx="3.3">−</tspan><tspan dx="2.0">C</tspan><tspan class="sub" dy="3.4" dx="0.4">1</tspan></text>
</svg></body></html>
